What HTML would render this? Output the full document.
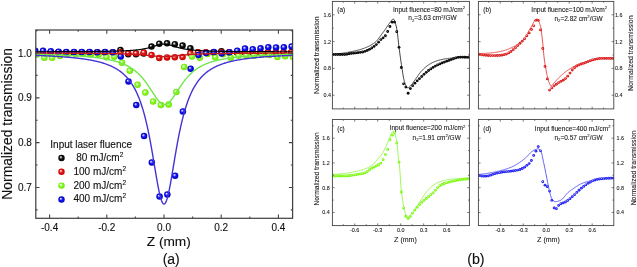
<!DOCTYPE html>
<html><head><meta charset="utf-8"><style>
html,body{margin:0;padding:0;background:#fff;}
svg{display:block;will-change:transform;}
svg text{font-family:"Liberation Sans",sans-serif;}
</style></head><body>
<svg width="637" height="267" viewBox="0 0 637 267">
<rect width="637" height="267" fill="#fff"/>
<defs>
<radialGradient id="gK" cx="0.5" cy="0.5" r="0.5" fx="0.36" fy="0.34"><stop offset="0" stop-color="#ffffff"/><stop offset="0.22" stop-color="#aaaaaa"/><stop offset="0.5" stop-color="#111"/><stop offset="1" stop-color="#000"/></radialGradient>
<radialGradient id="gR" cx="0.5" cy="0.5" r="0.5" fx="0.36" fy="0.34"><stop offset="0" stop-color="#ffffff"/><stop offset="0.22" stop-color="#ff9a9a"/><stop offset="0.5" stop-color="#e01818"/><stop offset="1" stop-color="#c40000"/></radialGradient>
<radialGradient id="gG" cx="0.5" cy="0.5" r="0.5" fx="0.36" fy="0.34"><stop offset="0" stop-color="#ffffff"/><stop offset="0.22" stop-color="#d0ffb0"/><stop offset="0.5" stop-color="#88ff22"/><stop offset="1" stop-color="#6ae000"/></radialGradient>
<radialGradient id="gB" cx="0.5" cy="0.5" r="0.5" fx="0.36" fy="0.34"><stop offset="0" stop-color="#ffffff"/><stop offset="0.22" stop-color="#9a9aff"/><stop offset="0.5" stop-color="#1414f0"/><stop offset="1" stop-color="#0000c4"/></radialGradient>
<radialGradient id="sK" cx="0.5" cy="0.5" r="0.5" fx="0.4" fy="0.4"><stop offset="0" stop-color="#777"/><stop offset="0.35" stop-color="#111"/><stop offset="1" stop-color="#000"/></radialGradient>
<radialGradient id="sR" cx="0.5" cy="0.5" r="0.5" fx="0.4" fy="0.4"><stop offset="0" stop-color="#ffb0b0"/><stop offset="0.45" stop-color="#e02828"/><stop offset="1" stop-color="#d01010"/></radialGradient>
<radialGradient id="sG" cx="0.5" cy="0.5" r="0.5" fx="0.4" fy="0.4"><stop offset="0" stop-color="#e0ffc0"/><stop offset="0.45" stop-color="#88ff22"/><stop offset="1" stop-color="#70f000"/></radialGradient>
<radialGradient id="sB" cx="0.5" cy="0.5" r="0.5" fx="0.4" fy="0.4"><stop offset="0" stop-color="#c0c0ff"/><stop offset="0.45" stop-color="#3030ff"/><stop offset="1" stop-color="#1818e0"/></radialGradient>
</defs>
<text x="49.60" y="231.3" font-size="10" text-anchor="middle" font-family="Liberation Sans, sans-serif" fill="#111" stroke="#111" stroke-width="0.12">-0.4</text>
<text x="106.80" y="231.3" font-size="10" text-anchor="middle" font-family="Liberation Sans, sans-serif" fill="#111" stroke="#111" stroke-width="0.12">-0.2</text>
<text x="164.00" y="231.3" font-size="10" text-anchor="middle" font-family="Liberation Sans, sans-serif" fill="#111" stroke="#111" stroke-width="0.12">0.0</text>
<text x="221.20" y="231.3" font-size="10" text-anchor="middle" font-family="Liberation Sans, sans-serif" fill="#111" stroke="#111" stroke-width="0.12">0.2</text>
<text x="278.40" y="231.3" font-size="10" text-anchor="middle" font-family="Liberation Sans, sans-serif" fill="#111" stroke="#111" stroke-width="0.12">0.4</text>
<text x="31.8" y="191.09" font-size="10" text-anchor="end" font-family="Liberation Sans, sans-serif" fill="#111" stroke="#111" stroke-width="0.12">0.7</text>
<text x="31.8" y="146.26" font-size="10" text-anchor="end" font-family="Liberation Sans, sans-serif" fill="#111" stroke="#111" stroke-width="0.12">0.8</text>
<text x="31.8" y="101.43" font-size="10" text-anchor="end" font-family="Liberation Sans, sans-serif" fill="#111" stroke="#111" stroke-width="0.12">0.9</text>
<text x="31.8" y="56.60" font-size="10" text-anchor="end" font-family="Liberation Sans, sans-serif" fill="#111" stroke="#111" stroke-width="0.12">1.0</text>
<text x="168.8" y="246.2" font-size="13.7" text-anchor="middle" font-family="Liberation Sans, sans-serif" fill="#111" stroke="#111" stroke-width="0.12">Z (mm)</text>
<text x="171.2" y="264.2" font-size="14" text-anchor="middle" font-family="Liberation Sans, sans-serif" fill="#111" stroke="#111" stroke-width="0.12">(a)</text>
<text transform="translate(11.6,123.9) rotate(-90)" font-size="13.85" text-anchor="middle" font-family="Liberation Sans, sans-serif" fill="#111" stroke="#111" stroke-width="0.12">Normalized transmission</text>
<clipPath id="ca"><rect x="35.8" y="30.0" width="256.8" height="188.3"/></clipPath>
<g clip-path="url(#ca)">
<circle cx="35.00" cy="52.60" r="3.25" fill="url(#gK)"/>
<circle cx="42.77" cy="52.60" r="3.25" fill="url(#gK)"/>
<circle cx="50.53" cy="52.60" r="3.25" fill="url(#gK)"/>
<circle cx="58.30" cy="52.60" r="3.25" fill="url(#gK)"/>
<circle cx="66.07" cy="52.60" r="3.25" fill="url(#gK)"/>
<circle cx="73.84" cy="52.60" r="3.25" fill="url(#gK)"/>
<circle cx="81.60" cy="52.60" r="3.25" fill="url(#gK)"/>
<circle cx="89.37" cy="52.60" r="3.25" fill="url(#gK)"/>
<circle cx="97.14" cy="52.60" r="3.25" fill="url(#gK)"/>
<circle cx="104.90" cy="52.60" r="3.25" fill="url(#gK)"/>
<circle cx="112.67" cy="52.60" r="3.25" fill="url(#gK)"/>
<circle cx="120.44" cy="50.00" r="3.25" fill="url(#gK)"/>
<circle cx="128.20" cy="54.30" r="3.25" fill="url(#gK)"/>
<circle cx="135.97" cy="54.30" r="3.25" fill="url(#gK)"/>
<circle cx="143.74" cy="53.60" r="3.25" fill="url(#gK)"/>
<circle cx="151.50" cy="46.60" r="3.25" fill="url(#gK)"/>
<circle cx="159.27" cy="43.70" r="3.25" fill="url(#gK)"/>
<circle cx="167.04" cy="43.30" r="3.25" fill="url(#gK)"/>
<circle cx="174.81" cy="44.20" r="3.25" fill="url(#gK)"/>
<circle cx="182.57" cy="45.60" r="3.25" fill="url(#gK)"/>
<circle cx="190.34" cy="48.30" r="3.25" fill="url(#gK)"/>
<circle cx="198.11" cy="52.60" r="3.25" fill="url(#gK)"/>
<circle cx="205.87" cy="52.60" r="3.25" fill="url(#gK)"/>
<circle cx="213.64" cy="52.60" r="3.25" fill="url(#gK)"/>
<circle cx="221.41" cy="51.30" r="3.25" fill="url(#gK)"/>
<circle cx="229.18" cy="52.60" r="3.25" fill="url(#gK)"/>
<circle cx="236.94" cy="52.60" r="3.25" fill="url(#gK)"/>
<circle cx="244.71" cy="52.60" r="3.25" fill="url(#gK)"/>
<circle cx="252.48" cy="52.60" r="3.25" fill="url(#gK)"/>
<circle cx="260.24" cy="52.60" r="3.25" fill="url(#gK)"/>
<circle cx="268.01" cy="52.60" r="3.25" fill="url(#gK)"/>
<circle cx="275.78" cy="52.60" r="3.25" fill="url(#gK)"/>
<circle cx="283.54" cy="52.60" r="3.25" fill="url(#gK)"/>
<circle cx="291.31" cy="52.60" r="3.25" fill="url(#gK)"/>
<circle cx="35.00" cy="52.30" r="3.25" fill="url(#gR)"/>
<circle cx="42.77" cy="52.30" r="3.25" fill="url(#gR)"/>
<circle cx="50.53" cy="52.30" r="3.25" fill="url(#gR)"/>
<circle cx="58.30" cy="52.30" r="3.25" fill="url(#gR)"/>
<circle cx="66.07" cy="52.30" r="3.25" fill="url(#gR)"/>
<circle cx="73.84" cy="52.30" r="3.25" fill="url(#gR)"/>
<circle cx="81.60" cy="52.30" r="3.25" fill="url(#gR)"/>
<circle cx="89.37" cy="52.30" r="3.25" fill="url(#gR)"/>
<circle cx="97.14" cy="52.30" r="3.25" fill="url(#gR)"/>
<circle cx="104.90" cy="52.30" r="3.25" fill="url(#gR)"/>
<circle cx="112.67" cy="52.30" r="3.25" fill="url(#gR)"/>
<circle cx="120.44" cy="52.30" r="3.25" fill="url(#gR)"/>
<circle cx="128.20" cy="53.30" r="3.25" fill="url(#gR)"/>
<circle cx="135.97" cy="53.30" r="3.25" fill="url(#gR)"/>
<circle cx="143.74" cy="52.50" r="3.25" fill="url(#gR)"/>
<circle cx="151.50" cy="55.10" r="3.25" fill="url(#gR)"/>
<circle cx="159.27" cy="57.90" r="3.25" fill="url(#gR)"/>
<circle cx="167.04" cy="57.40" r="3.25" fill="url(#gR)"/>
<circle cx="174.81" cy="57.30" r="3.25" fill="url(#gR)"/>
<circle cx="182.57" cy="57.00" r="3.25" fill="url(#gR)"/>
<circle cx="190.34" cy="53.30" r="3.25" fill="url(#gR)"/>
<circle cx="198.11" cy="52.30" r="3.25" fill="url(#gR)"/>
<circle cx="205.87" cy="52.30" r="3.25" fill="url(#gR)"/>
<circle cx="213.64" cy="52.30" r="3.25" fill="url(#gR)"/>
<circle cx="221.41" cy="52.30" r="3.25" fill="url(#gR)"/>
<circle cx="229.18" cy="52.30" r="3.25" fill="url(#gR)"/>
<circle cx="236.94" cy="52.30" r="3.25" fill="url(#gR)"/>
<circle cx="244.71" cy="52.30" r="3.25" fill="url(#gR)"/>
<circle cx="252.48" cy="52.30" r="3.25" fill="url(#gR)"/>
<circle cx="260.24" cy="52.30" r="3.25" fill="url(#gR)"/>
<circle cx="268.01" cy="52.30" r="3.25" fill="url(#gR)"/>
<circle cx="275.78" cy="52.30" r="3.25" fill="url(#gR)"/>
<circle cx="283.54" cy="52.30" r="3.25" fill="url(#gR)"/>
<circle cx="291.31" cy="52.30" r="3.25" fill="url(#gR)"/>
<circle cx="36.60" cy="54.60" r="3.25" fill="url(#gG)"/>
<circle cx="44.37" cy="57.80" r="3.25" fill="url(#gG)"/>
<circle cx="52.13" cy="57.80" r="3.25" fill="url(#gG)"/>
<circle cx="59.90" cy="56.00" r="3.25" fill="url(#gG)"/>
<circle cx="67.67" cy="54.00" r="3.25" fill="url(#gG)"/>
<circle cx="75.44" cy="54.00" r="3.25" fill="url(#gG)"/>
<circle cx="83.20" cy="54.00" r="3.25" fill="url(#gG)"/>
<circle cx="90.97" cy="54.20" r="3.25" fill="url(#gG)"/>
<circle cx="98.74" cy="54.50" r="3.25" fill="url(#gG)"/>
<circle cx="106.50" cy="57.20" r="3.25" fill="url(#gG)"/>
<circle cx="114.27" cy="56.70" r="3.25" fill="url(#gG)"/>
<circle cx="122.04" cy="62.70" r="3.25" fill="url(#gG)"/>
<circle cx="129.80" cy="70.80" r="3.25" fill="url(#gG)"/>
<circle cx="137.57" cy="84.80" r="3.25" fill="url(#gG)"/>
<circle cx="145.34" cy="92.60" r="3.25" fill="url(#gG)"/>
<circle cx="153.10" cy="101.50" r="3.25" fill="url(#gG)"/>
<circle cx="160.87" cy="105.00" r="3.25" fill="url(#gG)"/>
<circle cx="168.64" cy="104.50" r="3.25" fill="url(#gG)"/>
<circle cx="176.41" cy="92.00" r="3.25" fill="url(#gG)"/>
<circle cx="184.17" cy="67.00" r="3.25" fill="url(#gG)"/>
<circle cx="191.94" cy="56.60" r="3.25" fill="url(#gG)"/>
<circle cx="199.71" cy="57.70" r="3.25" fill="url(#gG)"/>
<circle cx="207.47" cy="54.00" r="3.25" fill="url(#gG)"/>
<circle cx="215.24" cy="57.30" r="3.25" fill="url(#gG)"/>
<circle cx="223.01" cy="54.30" r="3.25" fill="url(#gG)"/>
<circle cx="230.78" cy="57.70" r="3.25" fill="url(#gG)"/>
<circle cx="238.54" cy="55.80" r="3.25" fill="url(#gG)"/>
<circle cx="246.31" cy="55.50" r="3.25" fill="url(#gG)"/>
<circle cx="254.08" cy="55.80" r="3.25" fill="url(#gG)"/>
<circle cx="261.84" cy="54.40" r="3.25" fill="url(#gG)"/>
<circle cx="269.61" cy="55.00" r="3.25" fill="url(#gG)"/>
<circle cx="277.38" cy="57.00" r="3.25" fill="url(#gG)"/>
<circle cx="285.14" cy="56.20" r="3.25" fill="url(#gG)"/>
<circle cx="292.91" cy="57.00" r="3.25" fill="url(#gG)"/>
<circle cx="35.30" cy="50.80" r="3.25" fill="url(#gB)"/>
<circle cx="43.07" cy="50.80" r="3.25" fill="url(#gB)"/>
<circle cx="50.83" cy="51.20" r="3.25" fill="url(#gB)"/>
<circle cx="58.60" cy="51.70" r="3.25" fill="url(#gB)"/>
<circle cx="66.37" cy="52.00" r="3.25" fill="url(#gB)"/>
<circle cx="74.14" cy="52.00" r="3.25" fill="url(#gB)"/>
<circle cx="81.90" cy="52.00" r="3.25" fill="url(#gB)"/>
<circle cx="89.67" cy="52.00" r="3.25" fill="url(#gB)"/>
<circle cx="97.44" cy="52.20" r="3.25" fill="url(#gB)"/>
<circle cx="105.20" cy="52.00" r="3.25" fill="url(#gB)"/>
<circle cx="112.97" cy="52.20" r="3.25" fill="url(#gB)"/>
<circle cx="120.74" cy="56.40" r="3.25" fill="url(#gB)"/>
<circle cx="128.50" cy="81.40" r="3.25" fill="url(#gB)"/>
<circle cx="136.27" cy="105.00" r="3.25" fill="url(#gB)"/>
<circle cx="144.04" cy="136.00" r="3.25" fill="url(#gB)"/>
<circle cx="151.81" cy="162.50" r="3.25" fill="url(#gB)"/>
<circle cx="159.57" cy="196.60" r="3.25" fill="url(#gB)"/>
<circle cx="167.34" cy="194.50" r="3.25" fill="url(#gB)"/>
<circle cx="175.11" cy="175.70" r="3.25" fill="url(#gB)"/>
<circle cx="182.87" cy="111.40" r="3.25" fill="url(#gB)"/>
<circle cx="190.64" cy="68.70" r="3.25" fill="url(#gB)"/>
<circle cx="198.41" cy="55.00" r="3.25" fill="url(#gB)"/>
<circle cx="206.17" cy="53.10" r="3.25" fill="url(#gB)"/>
<circle cx="213.94" cy="52.00" r="3.25" fill="url(#gB)"/>
<circle cx="221.71" cy="53.60" r="3.25" fill="url(#gB)"/>
<circle cx="229.48" cy="52.20" r="3.25" fill="url(#gB)"/>
<circle cx="237.24" cy="50.70" r="3.25" fill="url(#gB)"/>
<circle cx="245.01" cy="48.50" r="3.25" fill="url(#gB)"/>
<circle cx="252.78" cy="49.20" r="3.25" fill="url(#gB)"/>
<circle cx="260.54" cy="48.30" r="3.25" fill="url(#gB)"/>
<circle cx="268.31" cy="47.20" r="3.25" fill="url(#gB)"/>
<circle cx="276.08" cy="47.50" r="3.25" fill="url(#gB)"/>
<circle cx="283.84" cy="47.20" r="3.25" fill="url(#gB)"/>
<circle cx="291.61" cy="46.50" r="3.25" fill="url(#gB)"/>
<path d="M32.44,51.77 L33.10,51.77 L33.76,51.77 L34.41,51.77 L35.07,51.76 L35.73,51.76 L36.39,51.76 L37.04,51.76 L37.70,51.76 L38.36,51.76 L39.02,51.76 L39.68,51.76 L40.33,51.75 L40.99,51.75 L41.65,51.75 L42.31,51.75 L42.96,51.75 L43.62,51.75 L44.28,51.75 L44.94,51.74 L45.60,51.74 L46.25,51.74 L46.91,51.74 L47.57,51.74 L48.23,51.74 L48.88,51.74 L49.54,51.73 L50.20,51.73 L50.86,51.73 L51.52,51.73 L52.17,51.73 L52.83,51.73 L53.49,51.72 L54.15,51.72 L54.81,51.72 L55.46,51.72 L56.12,51.72 L56.78,51.71 L57.44,51.71 L58.09,51.71 L58.75,51.71 L59.41,51.71 L60.07,51.70 L60.73,51.70 L61.38,51.70 L62.04,51.70 L62.70,51.69 L63.36,51.69 L64.01,51.69 L64.67,51.69 L65.33,51.68 L65.99,51.68 L66.65,51.68 L67.30,51.68 L67.96,51.67 L68.62,51.67 L69.28,51.67 L69.93,51.67 L70.59,51.66 L71.25,51.66 L71.91,51.66 L72.57,51.65 L73.22,51.65 L73.88,51.65 L74.54,51.64 L75.20,51.64 L75.85,51.64 L76.51,51.63 L77.17,51.63 L77.83,51.63 L78.49,51.62 L79.14,51.62 L79.80,51.61 L80.46,51.61 L81.12,51.61 L81.77,51.60 L82.43,51.60 L83.09,51.59 L83.75,51.59 L84.41,51.58 L85.06,51.58 L85.72,51.57 L86.38,51.57 L87.04,51.56 L87.70,51.56 L88.35,51.55 L89.01,51.55 L89.67,51.54 L90.33,51.54 L90.98,51.53 L91.64,51.53 L92.30,51.52 L92.96,51.51 L93.62,51.51 L94.27,51.50 L94.93,51.49 L95.59,51.49 L96.25,51.48 L96.90,51.47 L97.56,51.46 L98.22,51.45 L98.88,51.45 L99.54,51.44 L100.19,51.43 L100.85,51.42 L101.51,51.41 L102.17,51.40 L102.82,51.39 L103.48,51.38 L104.14,51.37 L104.80,51.36 L105.46,51.35 L106.11,51.34 L106.77,51.33 L107.43,51.32 L108.09,51.30 L108.74,51.29 L109.40,51.28 L110.06,51.26 L110.72,51.25 L111.38,51.24 L112.03,51.22 L112.69,51.21 L113.35,51.19 L114.01,51.17 L114.66,51.16 L115.32,51.14 L115.98,51.12 L116.64,51.10 L117.30,51.08 L117.95,51.06 L118.61,51.04 L119.27,51.02 L119.93,50.99 L120.59,50.97 L121.24,50.94 L121.90,50.92 L122.56,50.89 L123.22,50.86 L123.87,50.83 L124.53,50.80 L125.19,50.77 L125.85,50.74 L126.51,50.71 L127.16,50.67 L127.82,50.63 L128.48,50.59 L129.14,50.55 L129.79,50.51 L130.45,50.47 L131.11,50.42 L131.77,50.37 L132.43,50.32 L133.08,50.27 L133.74,50.21 L134.40,50.15 L135.06,50.09 L135.71,50.03 L136.37,49.96 L137.03,49.89 L137.69,49.81 L138.35,49.74 L139.00,49.65 L139.66,49.57 L140.32,49.48 L140.98,49.38 L141.63,49.28 L142.29,49.18 L142.95,49.07 L143.61,48.95 L144.27,48.83 L144.92,48.70 L145.58,48.57 L146.24,48.43 L146.90,48.28 L147.56,48.13 L148.21,47.97 L148.87,47.80 L149.53,47.63 L150.19,47.45 L150.84,47.26 L151.50,47.07 L152.16,46.87 L152.82,46.67 L153.48,46.46 L154.13,46.25 L154.79,46.04 L155.45,45.82 L156.11,45.61 L156.76,45.40 L157.42,45.20 L158.08,45.01 L158.74,44.82 L159.40,44.65 L160.05,44.50 L160.71,44.36 L161.37,44.25 L162.03,44.16 L162.68,44.09 L163.34,44.05 L164.00,44.03 L164.66,44.05 L165.32,44.09 L165.97,44.16 L166.63,44.25 L167.29,44.36 L167.95,44.50 L168.60,44.65 L169.26,44.82 L169.92,45.01 L170.58,45.20 L171.24,45.40 L171.89,45.61 L172.55,45.82 L173.21,46.04 L173.87,46.25 L174.52,46.46 L175.18,46.67 L175.84,46.87 L176.50,47.07 L177.16,47.26 L177.81,47.45 L178.47,47.63 L179.13,47.80 L179.79,47.97 L180.44,48.13 L181.10,48.28 L181.76,48.43 L182.42,48.57 L183.08,48.70 L183.73,48.83 L184.39,48.95 L185.05,49.07 L185.71,49.18 L186.37,49.28 L187.02,49.38 L187.68,49.48 L188.34,49.57 L189.00,49.65 L189.65,49.74 L190.31,49.81 L190.97,49.89 L191.63,49.96 L192.29,50.03 L192.94,50.09 L193.60,50.15 L194.26,50.21 L194.92,50.27 L195.57,50.32 L196.23,50.37 L196.89,50.42 L197.55,50.47 L198.21,50.51 L198.86,50.55 L199.52,50.59 L200.18,50.63 L200.84,50.67 L201.49,50.71 L202.15,50.74 L202.81,50.77 L203.47,50.80 L204.13,50.83 L204.78,50.86 L205.44,50.89 L206.10,50.92 L206.76,50.94 L207.41,50.97 L208.07,50.99 L208.73,51.02 L209.39,51.04 L210.05,51.06 L210.70,51.08 L211.36,51.10 L212.02,51.12 L212.68,51.14 L213.33,51.16 L213.99,51.17 L214.65,51.19 L215.31,51.21 L215.97,51.22 L216.62,51.24 L217.28,51.25 L217.94,51.26 L218.60,51.28 L219.26,51.29 L219.91,51.30 L220.57,51.32 L221.23,51.33 L221.89,51.34 L222.54,51.35 L223.20,51.36 L223.86,51.37 L224.52,51.38 L225.18,51.39 L225.83,51.40 L226.49,51.41 L227.15,51.42 L227.81,51.43 L228.46,51.44 L229.12,51.45 L229.78,51.45 L230.44,51.46 L231.10,51.47 L231.75,51.48 L232.41,51.49 L233.07,51.49 L233.73,51.50 L234.38,51.51 L235.04,51.51 L235.70,51.52 L236.36,51.53 L237.02,51.53 L237.67,51.54 L238.33,51.54 L238.99,51.55 L239.65,51.55 L240.30,51.56 L240.96,51.56 L241.62,51.57 L242.28,51.57 L242.94,51.58 L243.59,51.58 L244.25,51.59 L244.91,51.59 L245.57,51.60 L246.23,51.60 L246.88,51.61 L247.54,51.61 L248.20,51.61 L248.86,51.62 L249.51,51.62 L250.17,51.63 L250.83,51.63 L251.49,51.63 L252.15,51.64 L252.80,51.64 L253.46,51.64 L254.12,51.65 L254.78,51.65 L255.43,51.65 L256.09,51.66 L256.75,51.66 L257.41,51.66 L258.07,51.67 L258.72,51.67 L259.38,51.67 L260.04,51.67 L260.70,51.68 L261.35,51.68 L262.01,51.68 L262.67,51.68 L263.33,51.69 L263.99,51.69 L264.64,51.69 L265.30,51.69 L265.96,51.70 L266.62,51.70 L267.27,51.70 L267.93,51.70 L268.59,51.71 L269.25,51.71 L269.91,51.71 L270.56,51.71 L271.22,51.71 L271.88,51.72 L272.54,51.72 L273.19,51.72 L273.85,51.72 L274.51,51.72 L275.17,51.73 L275.83,51.73 L276.48,51.73 L277.14,51.73 L277.80,51.73 L278.46,51.73 L279.12,51.74 L279.77,51.74 L280.43,51.74 L281.09,51.74 L281.75,51.74 L282.40,51.74 L283.06,51.74 L283.72,51.75 L284.38,51.75 L285.04,51.75 L285.69,51.75 L286.35,51.75 L287.01,51.75 L287.67,51.75 L288.32,51.76 L288.98,51.76 L289.64,51.76 L290.30,51.76 L290.96,51.76 L291.61,51.76 L292.27,51.76 L292.93,51.76 L293.59,51.77 L294.24,51.77 L294.90,51.77 L295.56,51.77" stroke="#000" stroke-width="1.2" fill="none"/>
<path d="M32.44,53.11 L33.10,53.11 L33.76,53.11 L34.41,53.11 L35.07,53.11 L35.73,53.11 L36.39,53.11 L37.04,53.11 L37.70,53.11 L38.36,53.12 L39.02,53.12 L39.68,53.12 L40.33,53.12 L40.99,53.12 L41.65,53.12 L42.31,53.12 L42.96,53.12 L43.62,53.13 L44.28,53.13 L44.94,53.13 L45.60,53.13 L46.25,53.13 L46.91,53.13 L47.57,53.13 L48.23,53.13 L48.88,53.14 L49.54,53.14 L50.20,53.14 L50.86,53.14 L51.52,53.14 L52.17,53.14 L52.83,53.15 L53.49,53.15 L54.15,53.15 L54.81,53.15 L55.46,53.15 L56.12,53.15 L56.78,53.16 L57.44,53.16 L58.09,53.16 L58.75,53.16 L59.41,53.16 L60.07,53.17 L60.73,53.17 L61.38,53.17 L62.04,53.17 L62.70,53.17 L63.36,53.18 L64.01,53.18 L64.67,53.18 L65.33,53.18 L65.99,53.19 L66.65,53.19 L67.30,53.19 L67.96,53.19 L68.62,53.20 L69.28,53.20 L69.93,53.20 L70.59,53.20 L71.25,53.21 L71.91,53.21 L72.57,53.21 L73.22,53.21 L73.88,53.22 L74.54,53.22 L75.20,53.22 L75.85,53.23 L76.51,53.23 L77.17,53.23 L77.83,53.24 L78.49,53.24 L79.14,53.24 L79.80,53.25 L80.46,53.25 L81.12,53.25 L81.77,53.26 L82.43,53.26 L83.09,53.27 L83.75,53.27 L84.41,53.27 L85.06,53.28 L85.72,53.28 L86.38,53.29 L87.04,53.29 L87.70,53.30 L88.35,53.30 L89.01,53.31 L89.67,53.31 L90.33,53.32 L90.98,53.32 L91.64,53.33 L92.30,53.33 L92.96,53.34 L93.62,53.34 L94.27,53.35 L94.93,53.35 L95.59,53.36 L96.25,53.37 L96.90,53.37 L97.56,53.38 L98.22,53.39 L98.88,53.39 L99.54,53.40 L100.19,53.41 L100.85,53.42 L101.51,53.42 L102.17,53.43 L102.82,53.44 L103.48,53.45 L104.14,53.46 L104.80,53.47 L105.46,53.48 L106.11,53.48 L106.77,53.49 L107.43,53.50 L108.09,53.51 L108.74,53.52 L109.40,53.54 L110.06,53.55 L110.72,53.56 L111.38,53.57 L112.03,53.58 L112.69,53.59 L113.35,53.61 L114.01,53.62 L114.66,53.63 L115.32,53.65 L115.98,53.66 L116.64,53.68 L117.30,53.69 L117.95,53.71 L118.61,53.73 L119.27,53.74 L119.93,53.76 L120.59,53.78 L121.24,53.80 L121.90,53.82 L122.56,53.84 L123.22,53.86 L123.87,53.88 L124.53,53.90 L125.19,53.92 L125.85,53.95 L126.51,53.97 L127.16,54.00 L127.82,54.02 L128.48,54.05 L129.14,54.08 L129.79,54.11 L130.45,54.14 L131.11,54.17 L131.77,54.20 L132.43,54.23 L133.08,54.27 L133.74,54.30 L134.40,54.34 L135.06,54.38 L135.71,54.42 L136.37,54.46 L137.03,54.50 L137.69,54.54 L138.35,54.59 L139.00,54.63 L139.66,54.68 L140.32,54.73 L140.98,54.78 L141.63,54.83 L142.29,54.89 L142.95,54.94 L143.61,55.00 L144.27,55.06 L144.92,55.12 L145.58,55.18 L146.24,55.24 L146.90,55.30 L147.56,55.36 L148.21,55.43 L148.87,55.50 L149.53,55.56 L150.19,55.63 L150.84,55.70 L151.50,55.76 L152.16,55.83 L152.82,55.89 L153.48,55.96 L154.13,56.02 L154.79,56.09 L155.45,56.15 L156.11,56.20 L156.76,56.26 L157.42,56.31 L158.08,56.36 L158.74,56.41 L159.40,56.45 L160.05,56.48 L160.71,56.51 L161.37,56.54 L162.03,56.56 L162.68,56.57 L163.34,56.58 L164.00,56.59 L164.66,56.58 L165.32,56.57 L165.97,56.56 L166.63,56.54 L167.29,56.51 L167.95,56.48 L168.60,56.45 L169.26,56.41 L169.92,56.36 L170.58,56.31 L171.24,56.26 L171.89,56.20 L172.55,56.15 L173.21,56.09 L173.87,56.02 L174.52,55.96 L175.18,55.89 L175.84,55.83 L176.50,55.76 L177.16,55.70 L177.81,55.63 L178.47,55.56 L179.13,55.50 L179.79,55.43 L180.44,55.36 L181.10,55.30 L181.76,55.24 L182.42,55.18 L183.08,55.12 L183.73,55.06 L184.39,55.00 L185.05,54.94 L185.71,54.89 L186.37,54.83 L187.02,54.78 L187.68,54.73 L188.34,54.68 L189.00,54.63 L189.65,54.59 L190.31,54.54 L190.97,54.50 L191.63,54.46 L192.29,54.42 L192.94,54.38 L193.60,54.34 L194.26,54.30 L194.92,54.27 L195.57,54.23 L196.23,54.20 L196.89,54.17 L197.55,54.14 L198.21,54.11 L198.86,54.08 L199.52,54.05 L200.18,54.02 L200.84,54.00 L201.49,53.97 L202.15,53.95 L202.81,53.92 L203.47,53.90 L204.13,53.88 L204.78,53.86 L205.44,53.84 L206.10,53.82 L206.76,53.80 L207.41,53.78 L208.07,53.76 L208.73,53.74 L209.39,53.73 L210.05,53.71 L210.70,53.69 L211.36,53.68 L212.02,53.66 L212.68,53.65 L213.33,53.63 L213.99,53.62 L214.65,53.61 L215.31,53.59 L215.97,53.58 L216.62,53.57 L217.28,53.56 L217.94,53.55 L218.60,53.54 L219.26,53.52 L219.91,53.51 L220.57,53.50 L221.23,53.49 L221.89,53.48 L222.54,53.48 L223.20,53.47 L223.86,53.46 L224.52,53.45 L225.18,53.44 L225.83,53.43 L226.49,53.42 L227.15,53.42 L227.81,53.41 L228.46,53.40 L229.12,53.39 L229.78,53.39 L230.44,53.38 L231.10,53.37 L231.75,53.37 L232.41,53.36 L233.07,53.35 L233.73,53.35 L234.38,53.34 L235.04,53.34 L235.70,53.33 L236.36,53.33 L237.02,53.32 L237.67,53.32 L238.33,53.31 L238.99,53.31 L239.65,53.30 L240.30,53.30 L240.96,53.29 L241.62,53.29 L242.28,53.28 L242.94,53.28 L243.59,53.27 L244.25,53.27 L244.91,53.27 L245.57,53.26 L246.23,53.26 L246.88,53.25 L247.54,53.25 L248.20,53.25 L248.86,53.24 L249.51,53.24 L250.17,53.24 L250.83,53.23 L251.49,53.23 L252.15,53.23 L252.80,53.22 L253.46,53.22 L254.12,53.22 L254.78,53.21 L255.43,53.21 L256.09,53.21 L256.75,53.21 L257.41,53.20 L258.07,53.20 L258.72,53.20 L259.38,53.20 L260.04,53.19 L260.70,53.19 L261.35,53.19 L262.01,53.19 L262.67,53.18 L263.33,53.18 L263.99,53.18 L264.64,53.18 L265.30,53.17 L265.96,53.17 L266.62,53.17 L267.27,53.17 L267.93,53.17 L268.59,53.16 L269.25,53.16 L269.91,53.16 L270.56,53.16 L271.22,53.16 L271.88,53.15 L272.54,53.15 L273.19,53.15 L273.85,53.15 L274.51,53.15 L275.17,53.15 L275.83,53.14 L276.48,53.14 L277.14,53.14 L277.80,53.14 L278.46,53.14 L279.12,53.14 L279.77,53.13 L280.43,53.13 L281.09,53.13 L281.75,53.13 L282.40,53.13 L283.06,53.13 L283.72,53.13 L284.38,53.13 L285.04,53.12 L285.69,53.12 L286.35,53.12 L287.01,53.12 L287.67,53.12 L288.32,53.12 L288.98,53.12 L289.64,53.12 L290.30,53.11 L290.96,53.11 L291.61,53.11 L292.27,53.11 L292.93,53.11 L293.59,53.11 L294.24,53.11 L294.90,53.11 L295.56,53.11" stroke="#c81818" stroke-width="1.4" fill="none"/>
<path d="M32.44,54.32 L33.10,54.34 L33.76,54.35 L34.41,54.36 L35.07,54.38 L35.73,54.39 L36.39,54.40 L37.04,54.42 L37.70,54.43 L38.36,54.45 L39.02,54.46 L39.68,54.48 L40.33,54.49 L40.99,54.51 L41.65,54.52 L42.31,54.54 L42.96,54.56 L43.62,54.57 L44.28,54.59 L44.94,54.61 L45.60,54.62 L46.25,54.64 L46.91,54.66 L47.57,54.68 L48.23,54.69 L48.88,54.71 L49.54,54.73 L50.20,54.75 L50.86,54.77 L51.52,54.79 L52.17,54.81 L52.83,54.83 L53.49,54.85 L54.15,54.87 L54.81,54.90 L55.46,54.92 L56.12,54.94 L56.78,54.96 L57.44,54.99 L58.09,55.01 L58.75,55.03 L59.41,55.06 L60.07,55.08 L60.73,55.11 L61.38,55.14 L62.04,55.16 L62.70,55.19 L63.36,55.22 L64.01,55.24 L64.67,55.27 L65.33,55.30 L65.99,55.33 L66.65,55.36 L67.30,55.39 L67.96,55.42 L68.62,55.45 L69.28,55.49 L69.93,55.52 L70.59,55.55 L71.25,55.59 L71.91,55.62 L72.57,55.66 L73.22,55.69 L73.88,55.73 L74.54,55.77 L75.20,55.81 L75.85,55.85 L76.51,55.89 L77.17,55.93 L77.83,55.97 L78.49,56.01 L79.14,56.06 L79.80,56.10 L80.46,56.15 L81.12,56.19 L81.77,56.24 L82.43,56.29 L83.09,56.34 L83.75,56.39 L84.41,56.44 L85.06,56.50 L85.72,56.55 L86.38,56.61 L87.04,56.67 L87.70,56.72 L88.35,56.78 L89.01,56.84 L89.67,56.91 L90.33,56.97 L90.98,57.04 L91.64,57.10 L92.30,57.17 L92.96,57.24 L93.62,57.32 L94.27,57.39 L94.93,57.47 L95.59,57.55 L96.25,57.63 L96.90,57.71 L97.56,57.79 L98.22,57.88 L98.88,57.97 L99.54,58.06 L100.19,58.15 L100.85,58.25 L101.51,58.35 L102.17,58.45 L102.82,58.55 L103.48,58.66 L104.14,58.77 L104.80,58.88 L105.46,59.00 L106.11,59.12 L106.77,59.24 L107.43,59.37 L108.09,59.50 L108.74,59.63 L109.40,59.77 L110.06,59.91 L110.72,60.06 L111.38,60.21 L112.03,60.37 L112.69,60.53 L113.35,60.69 L114.01,60.86 L114.66,61.04 L115.32,61.22 L115.98,61.41 L116.64,61.60 L117.30,61.80 L117.95,62.01 L118.61,62.22 L119.27,62.44 L119.93,62.67 L120.59,62.90 L121.24,63.15 L121.90,63.40 L122.56,63.66 L123.22,63.93 L123.87,64.21 L124.53,64.50 L125.19,64.79 L125.85,65.10 L126.51,65.42 L127.16,65.76 L127.82,66.10 L128.48,66.46 L129.14,66.82 L129.79,67.21 L130.45,67.60 L131.11,68.01 L131.77,68.44 L132.43,68.88 L133.08,69.34 L133.74,69.82 L134.40,70.31 L135.06,70.82 L135.71,71.35 L136.37,71.90 L137.03,72.46 L137.69,73.05 L138.35,73.66 L139.00,74.30 L139.66,74.95 L140.32,75.63 L140.98,76.33 L141.63,77.05 L142.29,77.80 L142.95,78.57 L143.61,79.37 L144.27,80.19 L144.92,81.03 L145.58,81.90 L146.24,82.79 L146.90,83.71 L147.56,84.64 L148.21,85.60 L148.87,86.57 L149.53,87.56 L150.19,88.56 L150.84,89.57 L151.50,90.60 L152.16,91.62 L152.82,92.65 L153.48,93.67 L154.13,94.68 L154.79,95.68 L155.45,96.66 L156.11,97.61 L156.76,98.52 L157.42,99.40 L158.08,100.23 L158.74,101.00 L159.40,101.72 L160.05,102.36 L160.71,102.94 L161.37,103.43 L162.03,103.84 L162.68,104.16 L163.34,104.39 L164.00,104.52 L164.66,104.55 L165.32,104.49 L165.97,104.34 L166.63,104.08 L167.29,103.74 L167.95,103.31 L168.60,102.79 L169.26,102.20 L169.92,101.54 L170.58,100.81 L171.24,100.02 L171.89,99.17 L172.55,98.29 L173.21,97.36 L173.87,96.40 L174.52,95.42 L175.18,94.42 L175.84,93.40 L176.50,92.38 L177.16,91.35 L177.81,90.33 L178.47,89.31 L179.13,88.30 L179.79,87.30 L180.44,86.31 L181.10,85.34 L181.76,84.39 L182.42,83.47 L183.08,82.56 L183.73,81.67 L184.39,80.81 L185.05,79.97 L185.71,79.16 L186.37,78.37 L187.02,77.60 L187.68,76.86 L188.34,76.14 L189.00,75.45 L189.65,74.78 L190.31,74.13 L190.97,73.50 L191.63,72.90 L192.29,72.31 L192.94,71.75 L193.60,71.21 L194.26,70.68 L194.92,70.18 L195.57,69.69 L196.23,69.22 L196.89,68.77 L197.55,68.33 L198.21,67.91 L198.86,67.50 L199.52,67.11 L200.18,66.73 L200.84,66.36 L201.49,66.01 L202.15,65.67 L202.81,65.34 L203.47,65.02 L204.13,64.72 L204.78,64.42 L205.44,64.13 L206.10,63.86 L206.76,63.59 L207.41,63.33 L208.07,63.08 L208.73,62.84 L209.39,62.61 L210.05,62.38 L210.70,62.16 L211.36,61.95 L212.02,61.75 L212.68,61.55 L213.33,61.36 L213.99,61.17 L214.65,60.99 L215.31,60.82 L215.97,60.65 L216.62,60.48 L217.28,60.32 L217.94,60.17 L218.60,60.02 L219.26,59.87 L219.91,59.73 L220.57,59.60 L221.23,59.46 L221.89,59.33 L222.54,59.21 L223.20,59.09 L223.86,58.97 L224.52,58.85 L225.18,58.74 L225.83,58.63 L226.49,58.52 L227.15,58.42 L227.81,58.32 L228.46,58.22 L229.12,58.13 L229.78,58.03 L230.44,57.94 L231.10,57.86 L231.75,57.77 L232.41,57.69 L233.07,57.60 L233.73,57.52 L234.38,57.45 L235.04,57.37 L235.70,57.30 L236.36,57.23 L237.02,57.16 L237.67,57.09 L238.33,57.02 L238.99,56.95 L239.65,56.89 L240.30,56.83 L240.96,56.77 L241.62,56.71 L242.28,56.65 L242.94,56.59 L243.59,56.54 L244.25,56.48 L244.91,56.43 L245.57,56.38 L246.23,56.33 L246.88,56.28 L247.54,56.23 L248.20,56.18 L248.86,56.14 L249.51,56.09 L250.17,56.05 L250.83,56.00 L251.49,55.96 L252.15,55.92 L252.80,55.88 L253.46,55.84 L254.12,55.80 L254.78,55.76 L255.43,55.72 L256.09,55.68 L256.75,55.65 L257.41,55.61 L258.07,55.58 L258.72,55.54 L259.38,55.51 L260.04,55.48 L260.70,55.45 L261.35,55.41 L262.01,55.38 L262.67,55.35 L263.33,55.32 L263.99,55.29 L264.64,55.26 L265.30,55.24 L265.96,55.21 L266.62,55.18 L267.27,55.15 L267.93,55.13 L268.59,55.10 L269.25,55.08 L269.91,55.05 L270.56,55.03 L271.22,55.00 L271.88,54.98 L272.54,54.96 L273.19,54.93 L273.85,54.91 L274.51,54.89 L275.17,54.87 L275.83,54.85 L276.48,54.83 L277.14,54.81 L277.80,54.79 L278.46,54.77 L279.12,54.75 L279.77,54.73 L280.43,54.71 L281.09,54.69 L281.75,54.67 L282.40,54.65 L283.06,54.64 L283.72,54.62 L284.38,54.60 L285.04,54.58 L285.69,54.57 L286.35,54.55 L287.01,54.54 L287.67,54.52 L288.32,54.50 L288.98,54.49 L289.64,54.47 L290.30,54.46 L290.96,54.44 L291.61,54.43 L292.27,54.41 L292.93,54.40 L293.59,54.39 L294.24,54.37 L294.90,54.36 L295.56,54.35" stroke="#72e64a" stroke-width="1.4" fill="none"/>
<path d="M32.44,55.28 L33.10,55.31 L33.76,55.33 L34.41,55.35 L35.07,55.38 L35.73,55.40 L36.39,55.43 L37.04,55.45 L37.70,55.48 L38.36,55.50 L39.02,55.53 L39.68,55.55 L40.33,55.58 L40.99,55.61 L41.65,55.64 L42.31,55.66 L42.96,55.69 L43.62,55.72 L44.28,55.75 L44.94,55.78 L45.60,55.81 L46.25,55.84 L46.91,55.87 L47.57,55.90 L48.23,55.94 L48.88,55.97 L49.54,56.00 L50.20,56.04 L50.86,56.07 L51.52,56.11 L52.17,56.14 L52.83,56.18 L53.49,56.22 L54.15,56.26 L54.81,56.29 L55.46,56.33 L56.12,56.37 L56.78,56.41 L57.44,56.45 L58.09,56.50 L58.75,56.54 L59.41,56.58 L60.07,56.63 L60.73,56.67 L61.38,56.72 L62.04,56.77 L62.70,56.81 L63.36,56.86 L64.01,56.91 L64.67,56.96 L65.33,57.01 L65.99,57.07 L66.65,57.12 L67.30,57.18 L67.96,57.23 L68.62,57.29 L69.28,57.35 L69.93,57.41 L70.59,57.47 L71.25,57.53 L71.91,57.59 L72.57,57.65 L73.22,57.72 L73.88,57.79 L74.54,57.86 L75.20,57.93 L75.85,58.00 L76.51,58.07 L77.17,58.14 L77.83,58.22 L78.49,58.30 L79.14,58.38 L79.80,58.46 L80.46,58.54 L81.12,58.63 L81.77,58.71 L82.43,58.80 L83.09,58.89 L83.75,58.99 L84.41,59.08 L85.06,59.18 L85.72,59.28 L86.38,59.38 L87.04,59.49 L87.70,59.59 L88.35,59.70 L89.01,59.82 L89.67,59.93 L90.33,60.05 L90.98,60.17 L91.64,60.30 L92.30,60.43 L92.96,60.56 L93.62,60.69 L94.27,60.83 L94.93,60.97 L95.59,61.12 L96.25,61.27 L96.90,61.42 L97.56,61.58 L98.22,61.74 L98.88,61.91 L99.54,62.08 L100.19,62.26 L100.85,62.44 L101.51,62.63 L102.17,62.82 L102.82,63.02 L103.48,63.22 L104.14,63.43 L104.80,63.65 L105.46,63.87 L106.11,64.10 L106.77,64.34 L107.43,64.58 L108.09,64.84 L108.74,65.10 L109.40,65.37 L110.06,65.64 L110.72,65.93 L111.38,66.23 L112.03,66.54 L112.69,66.85 L113.35,67.18 L114.01,67.52 L114.66,67.87 L115.32,68.24 L115.98,68.61 L116.64,69.00 L117.30,69.41 L117.95,69.83 L118.61,70.26 L119.27,70.71 L119.93,71.18 L120.59,71.67 L121.24,72.17 L121.90,72.70 L122.56,73.25 L123.22,73.81 L123.87,74.40 L124.53,75.02 L125.19,75.66 L125.85,76.32 L126.51,77.02 L127.16,77.74 L127.82,78.50 L128.48,79.28 L129.14,80.11 L129.79,80.96 L130.45,81.86 L131.11,82.80 L131.77,83.77 L132.43,84.80 L133.08,85.87 L133.74,86.99 L134.40,88.16 L135.06,89.38 L135.71,90.67 L136.37,92.02 L137.03,93.43 L137.69,94.91 L138.35,96.46 L139.00,98.08 L139.66,99.79 L140.32,101.58 L140.98,103.45 L141.63,105.42 L142.29,107.48 L142.95,109.64 L143.61,111.91 L144.27,114.28 L144.92,116.76 L145.58,119.36 L146.24,122.08 L146.90,124.92 L147.56,127.88 L148.21,130.96 L148.87,134.17 L149.53,137.49 L150.19,140.94 L150.84,144.49 L151.50,148.15 L152.16,151.90 L152.82,155.74 L153.48,159.63 L154.13,163.57 L154.79,167.53 L155.45,171.48 L156.11,175.38 L156.76,179.21 L157.42,182.92 L158.08,186.47 L158.74,189.82 L159.40,192.91 L160.05,195.71 L160.71,198.17 L161.37,200.24 L162.03,201.90 L162.68,203.10 L163.34,203.83 L164.00,204.08 L164.66,203.83 L165.32,203.10 L165.97,201.90 L166.63,200.24 L167.29,198.17 L167.95,195.71 L168.60,192.91 L169.26,189.82 L169.92,186.47 L170.58,182.92 L171.24,179.21 L171.89,175.38 L172.55,171.48 L173.21,167.53 L173.87,163.57 L174.52,159.63 L175.18,155.74 L175.84,151.90 L176.50,148.15 L177.16,144.49 L177.81,140.94 L178.47,137.49 L179.13,134.17 L179.79,130.96 L180.44,127.88 L181.10,124.92 L181.76,122.08 L182.42,119.36 L183.08,116.76 L183.73,114.28 L184.39,111.91 L185.05,109.64 L185.71,107.48 L186.37,105.42 L187.02,103.45 L187.68,101.58 L188.34,99.79 L189.00,98.08 L189.65,96.46 L190.31,94.91 L190.97,93.43 L191.63,92.02 L192.29,90.67 L192.94,89.38 L193.60,88.16 L194.26,86.99 L194.92,85.87 L195.57,84.80 L196.23,83.77 L196.89,82.80 L197.55,81.86 L198.21,80.96 L198.86,80.11 L199.52,79.28 L200.18,78.50 L200.84,77.74 L201.49,77.02 L202.15,76.32 L202.81,75.66 L203.47,75.02 L204.13,74.40 L204.78,73.81 L205.44,73.25 L206.10,72.70 L206.76,72.17 L207.41,71.67 L208.07,71.18 L208.73,70.71 L209.39,70.26 L210.05,69.83 L210.70,69.41 L211.36,69.00 L212.02,68.61 L212.68,68.24 L213.33,67.87 L213.99,67.52 L214.65,67.18 L215.31,66.85 L215.97,66.54 L216.62,66.23 L217.28,65.93 L217.94,65.64 L218.60,65.37 L219.26,65.10 L219.91,64.84 L220.57,64.58 L221.23,64.34 L221.89,64.10 L222.54,63.87 L223.20,63.65 L223.86,63.43 L224.52,63.22 L225.18,63.02 L225.83,62.82 L226.49,62.63 L227.15,62.44 L227.81,62.26 L228.46,62.08 L229.12,61.91 L229.78,61.74 L230.44,61.58 L231.10,61.42 L231.75,61.27 L232.41,61.12 L233.07,60.97 L233.73,60.83 L234.38,60.69 L235.04,60.56 L235.70,60.43 L236.36,60.30 L237.02,60.17 L237.67,60.05 L238.33,59.93 L238.99,59.82 L239.65,59.70 L240.30,59.59 L240.96,59.49 L241.62,59.38 L242.28,59.28 L242.94,59.18 L243.59,59.08 L244.25,58.99 L244.91,58.89 L245.57,58.80 L246.23,58.71 L246.88,58.63 L247.54,58.54 L248.20,58.46 L248.86,58.38 L249.51,58.30 L250.17,58.22 L250.83,58.14 L251.49,58.07 L252.15,58.00 L252.80,57.93 L253.46,57.86 L254.12,57.79 L254.78,57.72 L255.43,57.65 L256.09,57.59 L256.75,57.53 L257.41,57.47 L258.07,57.41 L258.72,57.35 L259.38,57.29 L260.04,57.23 L260.70,57.18 L261.35,57.12 L262.01,57.07 L262.67,57.01 L263.33,56.96 L263.99,56.91 L264.64,56.86 L265.30,56.81 L265.96,56.77 L266.62,56.72 L267.27,56.67 L267.93,56.63 L268.59,56.58 L269.25,56.54 L269.91,56.50 L270.56,56.45 L271.22,56.41 L271.88,56.37 L272.54,56.33 L273.19,56.29 L273.85,56.26 L274.51,56.22 L275.17,56.18 L275.83,56.14 L276.48,56.11 L277.14,56.07 L277.80,56.04 L278.46,56.00 L279.12,55.97 L279.77,55.94 L280.43,55.90 L281.09,55.87 L281.75,55.84 L282.40,55.81 L283.06,55.78 L283.72,55.75 L284.38,55.72 L285.04,55.69 L285.69,55.66 L286.35,55.64 L287.01,55.61 L287.67,55.58 L288.32,55.55 L288.98,55.53 L289.64,55.50 L290.30,55.48 L290.96,55.45 L291.61,55.43 L292.27,55.40 L292.93,55.38 L293.59,55.35 L294.24,55.33 L294.90,55.31 L295.56,55.28" stroke="#4433d4" stroke-width="1.4" fill="none"/>
</g>
<rect x="35.8" y="30.0" width="256.8" height="188.3" fill="none" stroke="#444" stroke-width="1.25"/>
<path d="M49.60,218.3v-3.7M49.60,30.0v3.7M78.20,218.3v-1.8M78.20,30.0v1.8M106.80,218.3v-3.7M106.80,30.0v3.7M135.40,218.3v-1.8M135.40,30.0v1.8M164.00,218.3v-3.7M164.00,30.0v3.7M192.60,218.3v-1.8M192.60,30.0v1.8M221.20,218.3v-3.7M221.20,30.0v3.7M249.80,218.3v-1.8M249.80,30.0v1.8M278.40,218.3v-3.7M278.40,30.0v3.7M35.8,209.91h1.8M292.6,209.91h-1.8M35.8,187.49h3.7M292.6,187.49h-3.7M35.8,165.07h1.8M292.6,165.07h-1.8M35.8,142.66h3.7M292.6,142.66h-3.7M35.8,120.25h1.8M292.6,120.25h-1.8M35.8,97.83h3.7M292.6,97.83h-3.7M35.8,75.42h1.8M292.6,75.42h-1.8M35.8,53.00h3.7M292.6,53.00h-3.7M35.8,30.58h1.8M292.6,30.58h-1.8" stroke="#444" stroke-width="1.1" fill="none"/>
<text x="50.3" y="147.8" font-size="10" font-family="Liberation Sans, sans-serif" fill="#111" stroke="#111" stroke-width="0.12">Input laser fluence</text>
<circle cx="61.50" cy="158.00" r="3.2" fill="url(#gK)"/>
<text x="73.5" y="161.1" font-size="10" font-family="Liberation Sans, sans-serif" fill="#111" stroke="#111" stroke-width="0.12" xml:space="preserve"> 80 mJ/cm<tspan font-size="6.5" dy="-4">2</tspan></text>
<circle cx="61.50" cy="171.70" r="3.2" fill="url(#gR)"/>
<text x="73.5" y="174.9" font-size="10" font-family="Liberation Sans, sans-serif" fill="#111" stroke="#111" stroke-width="0.12" xml:space="preserve">100 mJ/cm<tspan font-size="6.5" dy="-4">2</tspan></text>
<circle cx="61.50" cy="185.60" r="3.2" fill="url(#gG)"/>
<text x="73.5" y="188.8" font-size="10" font-family="Liberation Sans, sans-serif" fill="#111" stroke="#111" stroke-width="0.12" xml:space="preserve">200 mJ/cm<tspan font-size="6.5" dy="-4">2</tspan></text>
<circle cx="61.50" cy="199.50" r="3.2" fill="url(#gB)"/>
<text x="73.5" y="202.4" font-size="10" font-family="Liberation Sans, sans-serif" fill="#111" stroke="#111" stroke-width="0.12" xml:space="preserve">400 mJ/cm<tspan font-size="6.5" dy="-4">2</tspan></text>
<clipPath id="c00"><rect x="332.4" y="1.4" width="137.0" height="107.5"/></clipPath>
<g clip-path="url(#c00)">
<path d="M331.40,54.60 L331.65,54.58 L331.90,54.56 L332.15,54.54 L332.40,54.52 L332.65,54.50 L332.90,54.47 L333.15,54.45 L333.40,54.42 L333.65,54.40 L333.90,54.37 L334.15,54.35 L334.40,54.32 L334.65,54.30 L334.90,54.27 L335.15,54.24 L335.40,54.21 L335.65,54.18 L335.90,54.15 L336.15,54.12 L336.40,54.09 L336.65,54.06 L336.90,54.03 L337.15,54.00 L337.40,53.97 L337.65,53.94 L337.90,53.90 L338.15,53.87 L338.40,53.84 L338.65,53.80 L338.90,53.77 L339.15,53.73 L339.40,53.70 L339.65,53.66 L339.90,53.62 L340.15,53.59 L340.40,53.55 L340.65,53.51 L340.90,53.48 L341.15,53.44 L341.40,53.40 L341.65,53.36 L341.90,53.32 L342.15,53.28 L342.40,53.24 L342.65,53.20 L342.90,53.16 L343.15,53.12 L343.40,53.08 L343.65,53.04 L343.90,53.00 L344.15,52.95 L344.40,52.91 L344.65,52.87 L344.90,52.83 L345.15,52.78 L345.40,52.74 L345.65,52.70 L345.90,52.65 L346.15,52.61 L346.40,52.56 L346.65,52.52 L346.90,52.47 L347.15,52.43 L347.40,52.38 L347.65,52.34 L347.90,52.29 L348.15,52.25 L348.40,52.20 L348.65,52.15 L348.90,52.11 L349.15,52.06 L349.40,52.01 L349.65,51.97 L349.90,51.92 L350.15,51.87 L350.40,51.82 L350.65,51.78 L350.90,51.73 L351.15,51.68 L351.40,51.63 L351.65,51.58 L351.90,51.53 L352.15,51.48 L352.40,51.43 L352.65,51.38 L352.90,51.33 L353.15,51.27 L353.40,51.22 L353.65,51.17 L353.90,51.11 L354.15,51.06 L354.40,51.00 L354.65,50.95 L354.90,50.89 L355.15,50.84 L355.40,50.78 L355.65,50.72 L355.90,50.66 L356.15,50.60 L356.40,50.54 L356.65,50.48 L356.90,50.42 L357.15,50.36 L357.40,50.29 L357.65,50.23 L357.90,50.16 L358.15,50.10 L358.40,50.03 L358.65,49.96 L358.90,49.90 L359.15,49.83 L359.40,49.76 L359.65,49.69 L359.90,49.61 L360.15,49.54 L360.40,49.47 L360.65,49.39 L360.90,49.32 L361.15,49.24 L361.40,49.16 L361.65,49.08 L361.90,49.00 L362.15,48.92 L362.40,48.84 L362.65,48.75 L362.90,48.67 L363.15,48.58 L363.40,48.50 L363.65,48.41 L363.90,48.32 L364.15,48.23 L364.40,48.13 L364.65,48.04 L364.90,47.94 L365.15,47.85 L365.40,47.75 L365.65,47.65 L365.90,47.55 L366.15,47.44 L366.40,47.34 L366.65,47.23 L366.90,47.12 L367.15,47.01 L367.40,46.90 L367.65,46.79 L367.90,46.67 L368.15,46.55 L368.40,46.43 L368.65,46.31 L368.90,46.18 L369.15,46.06 L369.40,45.93 L369.65,45.80 L369.90,45.66 L370.15,45.53 L370.40,45.39 L370.65,45.25 L370.90,45.10 L371.15,44.96 L371.40,44.81 L371.65,44.66 L371.90,44.51 L372.15,44.35 L372.40,44.19 L372.65,44.03 L372.90,43.86 L373.15,43.69 L373.40,43.52 L373.65,43.35 L373.90,43.17 L374.15,42.99 L374.40,42.81 L374.65,42.63 L374.90,42.44 L375.15,42.24 L375.40,42.05 L375.65,41.85 L375.90,41.65 L376.15,41.44 L376.40,41.22 L376.65,40.98 L376.90,40.71 L377.15,40.42 L377.40,40.12 L377.65,39.79 L377.90,39.46 L378.15,39.11 L378.40,38.75 L378.65,38.40 L378.90,38.04 L379.15,37.68 L379.40,37.32 L379.65,36.97 L379.90,36.63 L380.15,36.30 L380.40,35.97 L380.65,35.65 L380.90,35.32 L381.15,34.99 L381.40,34.66 L381.65,34.33 L381.90,34.00 L382.15,33.67 L382.40,33.34 L382.65,33.00 L382.90,32.67 L383.15,32.33 L383.40,32.00 L383.65,31.66 L383.90,31.32 L384.15,30.98 L384.40,30.63 L384.65,30.29 L384.90,29.94 L385.15,29.59 L385.40,29.23 L385.65,28.86 L385.90,28.49 L386.15,28.11 L386.40,27.73 L386.65,27.35 L386.90,26.96 L387.15,26.58 L387.40,26.19 L387.65,25.81 L387.90,25.43 L388.15,25.05 L388.40,24.68 L388.65,24.31 L388.90,23.95 L389.15,23.61 L389.40,23.27 L389.65,22.94 L389.90,22.62 L390.15,22.31 L390.40,21.98 L390.65,21.64 L390.90,21.28 L391.15,20.93 L391.40,20.58 L391.65,20.25 L391.90,19.94 L392.15,19.66 L392.40,19.42 L392.65,19.23 L392.90,19.09 L393.15,19.01 L393.40,19.01 L393.65,19.15 L393.90,19.42 L394.15,19.82 L394.40,20.33 L394.65,20.94 L394.90,21.64 L395.15,22.41 L395.40,23.25 L395.65,24.15 L395.90,25.07 L396.15,26.03 L396.40,27.00 L396.65,28.14 L396.90,29.57 L397.15,31.26 L397.40,33.16 L397.65,35.21 L397.90,37.37 L398.15,39.61 L398.40,41.86 L398.65,44.08 L398.90,46.23 L399.15,48.26 L399.40,50.14 L399.65,51.99 L399.90,53.85 L400.15,55.70 L400.40,57.53 L400.65,59.34 L400.90,61.11 L401.15,62.83 L401.40,64.49 L401.65,66.09 L401.90,67.65 L402.15,69.25 L402.40,70.87 L402.65,72.47 L402.90,74.05 L403.15,75.57 L403.40,77.02 L403.65,78.37 L403.90,79.60 L404.15,80.68 L404.40,81.60 L404.65,82.33 L404.90,83.00 L405.15,83.65 L405.40,84.28 L405.65,84.88 L405.90,85.45 L406.15,85.97 L406.40,86.44 L406.65,86.86 L406.90,87.21 L407.15,87.48 L407.40,87.68 L407.65,87.78 L407.90,87.80 L408.15,87.75 L408.40,87.66 L408.65,87.54 L408.90,87.38 L409.15,87.20 L409.40,86.99 L409.65,86.77 L409.90,86.55 L410.15,86.32 L410.40,86.09 L410.65,85.86 L410.90,85.61 L411.15,85.33 L411.40,85.02 L411.65,84.69 L411.90,84.35 L412.15,83.99 L412.40,83.63 L412.65,83.26 L412.90,82.89 L413.15,82.52 L413.40,82.16 L413.65,81.81 L413.90,81.46 L414.15,81.12 L414.40,80.77 L414.65,80.42 L414.90,80.07 L415.15,79.71 L415.40,79.34 L415.65,78.98 L415.90,78.61 L416.15,78.25 L416.40,77.88 L416.65,77.51 L416.90,77.14 L417.15,76.77 L417.40,76.41 L417.65,76.04 L417.90,75.68 L418.15,75.32 L418.40,74.97 L418.65,74.62 L418.90,74.27 L419.15,73.93 L419.40,73.60 L419.65,73.27 L419.90,72.95 L420.15,72.63 L420.40,72.33 L420.65,72.03 L420.90,71.74 L421.15,71.46 L421.40,71.19 L421.65,70.93 L421.90,70.66 L422.15,70.40 L422.40,70.14 L422.65,69.89 L422.90,69.63 L423.15,69.38 L423.40,69.14 L423.65,68.89 L423.90,68.65 L424.15,68.41 L424.40,68.18 L424.65,67.95 L424.90,67.72 L425.15,67.50 L425.40,67.28 L425.65,67.06 L425.90,66.85 L426.15,66.64 L426.40,66.44 L426.65,66.24 L426.90,66.04 L427.15,65.85 L427.40,65.66 L427.65,65.48 L427.90,65.30 L428.15,65.13 L428.40,64.96 L428.65,64.80 L428.90,64.64 L429.15,64.48 L429.40,64.33 L429.65,64.17 L429.90,64.02 L430.15,63.88 L430.40,63.73 L430.65,63.59 L430.90,63.45 L431.15,63.31 L431.40,63.17 L431.65,63.04 L431.90,62.90 L432.15,62.77 L432.40,62.65 L432.65,62.52 L432.90,62.40 L433.15,62.28 L433.40,62.16 L433.65,62.05 L433.90,61.94 L434.15,61.83 L434.40,61.72 L434.65,61.62 L434.90,61.51 L435.15,61.42 L435.40,61.32 L435.65,61.23 L435.90,61.14 L436.15,61.05 L436.40,60.97 L436.65,60.88 L436.90,60.80 L437.15,60.72 L437.40,60.65 L437.65,60.57 L437.90,60.49 L438.15,60.42 L438.40,60.35 L438.65,60.27 L438.90,60.20 L439.15,60.14 L439.40,60.07 L439.65,60.00 L439.90,59.94 L440.15,59.87 L440.40,59.81 L440.65,59.75 L440.90,59.69 L441.15,59.63 L441.40,59.58 L441.65,59.52 L441.90,59.47 L442.15,59.42 L442.40,59.36 L442.65,59.31 L442.90,59.27 L443.15,59.22 L443.40,59.17 L443.65,59.13 L443.90,59.08 L444.15,59.04 L444.40,59.00 L444.65,58.96 L444.90,58.92 L445.15,58.88 L445.40,58.84 L445.65,58.81 L445.90,58.77 L446.15,58.74 L446.40,58.71 L446.65,58.67 L446.90,58.64 L447.15,58.61 L447.40,58.58 L447.65,58.55 L447.90,58.52 L448.15,58.48 L448.40,58.45 L448.65,58.42 L448.90,58.39 L449.15,58.36 L449.40,58.33 L449.65,58.30 L449.90,58.27 L450.15,58.24 L450.40,58.21 L450.65,58.18 L450.90,58.15 L451.15,58.12 L451.40,58.09 L451.65,58.05 L451.90,58.02 L452.15,57.98 L452.40,57.94 L452.65,57.90 L452.90,57.86 L453.15,57.82 L453.40,57.78 L453.65,57.73 L453.90,57.69 L454.15,57.65 L454.40,57.61 L454.65,57.57 L454.90,57.53 L455.15,57.49 L455.40,57.45 L455.65,57.42 L455.90,57.38 L456.15,57.35 L456.40,57.32 L456.65,57.29 L456.90,57.27 L457.15,57.25 L457.40,57.23 L457.65,57.22 L457.90,57.21 L458.15,57.20 L458.40,57.20 L458.65,57.20 L458.90,57.20 L459.15,57.20 L459.40,57.20 L459.65,57.20 L459.90,57.20 L460.15,57.20 L460.40,57.20 L460.65,57.20 L460.90,57.20 L461.15,57.20 L461.40,57.20 L461.65,57.20 L461.90,57.20 L462.15,57.20 L462.40,57.20 L462.65,57.20 L462.90,57.20 L463.15,57.20 L463.40,57.20 L463.65,57.20 L463.90,57.20 L464.15,57.20 L464.40,57.20 L464.65,57.20 L464.90,57.20 L465.15,57.20 L465.40,57.20 L465.65,57.20 L465.90,57.20 L466.15,57.20 L466.40,57.20 L466.65,57.20 L466.90,57.20 L467.15,57.20 L467.40,57.20 L467.65,57.20 L467.90,57.20 L468.15,57.20 L468.40,57.20 L468.65,57.20 L468.90,57.20 L469.15,57.20 L469.40,57.20 L469.65,57.20 L469.90,57.20 L470.15,57.20 L470.40,57.20" stroke="#000" stroke-width="0.75" fill="none"/>
<g fill="url(#sK)"><circle cx="333.20" cy="54.50" r="1.4"/><circle cx="335.47" cy="54.50" r="1.4"/><circle cx="337.74" cy="54.50" r="1.4"/><circle cx="340.01" cy="54.50" r="1.4"/><circle cx="342.28" cy="54.50" r="1.4"/><circle cx="344.55" cy="54.50" r="1.4"/><circle cx="346.82" cy="54.29" r="1.4"/><circle cx="349.09" cy="53.77" r="1.4"/><circle cx="351.36" cy="53.41" r="1.4"/><circle cx="353.63" cy="53.14" r="1.4"/><circle cx="355.90" cy="52.91" r="1.4"/><circle cx="358.17" cy="52.66" r="1.4"/><circle cx="360.44" cy="52.37" r="1.4"/><circle cx="362.71" cy="51.98" r="1.4"/><circle cx="364.98" cy="51.36" r="1.4"/><circle cx="367.25" cy="50.42" r="1.4"/><circle cx="369.52" cy="49.29" r="1.4"/><circle cx="371.79" cy="48.00" r="1.4"/><circle cx="374.06" cy="46.42" r="1.4"/><circle cx="376.33" cy="44.59" r="1.4"/><circle cx="378.60" cy="42.15" r="1.4"/><circle cx="380.87" cy="39.62" r="1.4"/><circle cx="383.14" cy="37.84" r="1.4"/><circle cx="385.41" cy="35.74" r="1.4"/><circle cx="387.68" cy="31.49" r="1.4"/><circle cx="389.95" cy="26.51" r="1.4"/><circle cx="392.22" cy="22.17" r="1.4"/><circle cx="394.49" cy="22.05" r="1.4"/><circle cx="396.76" cy="31.66" r="1.4"/><circle cx="399.03" cy="47.30" r="1.4"/><circle cx="401.30" cy="67.49" r="1.4"/><circle cx="403.57" cy="83.80" r="1.4"/><circle cx="405.84" cy="87.06" r="1.4"/><circle cx="408.11" cy="93.23" r="1.4"/><circle cx="410.38" cy="88.53" r="1.4"/><circle cx="412.65" cy="85.68" r="1.4"/><circle cx="414.92" cy="83.17" r="1.4"/><circle cx="417.19" cy="80.84" r="1.4"/><circle cx="419.46" cy="78.63" r="1.4"/><circle cx="421.73" cy="76.50" r="1.4"/><circle cx="424.00" cy="74.37" r="1.4"/><circle cx="426.27" cy="72.33" r="1.4"/><circle cx="428.54" cy="70.49" r="1.4"/><circle cx="430.81" cy="68.88" r="1.4"/><circle cx="433.08" cy="67.42" r="1.4"/><circle cx="435.35" cy="66.10" r="1.4"/><circle cx="437.62" cy="64.94" r="1.4"/><circle cx="439.89" cy="63.91" r="1.4"/><circle cx="442.16" cy="62.96" r="1.4"/><circle cx="444.43" cy="62.05" r="1.4"/><circle cx="446.70" cy="61.19" r="1.4"/><circle cx="448.97" cy="60.38" r="1.4"/><circle cx="451.24" cy="59.62" r="1.4"/><circle cx="453.51" cy="58.77" r="1.4"/><circle cx="455.78" cy="57.90" r="1.4"/><circle cx="458.05" cy="57.30" r="1.4"/><circle cx="460.32" cy="57.20" r="1.4"/><circle cx="462.59" cy="57.21" r="1.4"/><circle cx="464.86" cy="57.25" r="1.4"/><circle cx="467.13" cy="57.33" r="1.4"/><circle cx="469.40" cy="57.48" r="1.4"/></g>
</g>
<rect x="332.4" y="1.4" width="137.0" height="107.5" fill="none" stroke="#444" stroke-width="0.9"/>
<path d="M343.25,108.9v-1.4M343.25,1.4v1.4M354.74,108.9v-2.2M354.74,1.4v2.2M366.23,108.9v-1.4M366.23,1.4v1.4M377.72,108.9v-2.2M377.72,1.4v2.2M389.21,108.9v-1.4M389.21,1.4v1.4M400.70,108.9v-2.2M400.70,1.4v2.2M412.19,108.9v-1.4M412.19,1.4v1.4M423.68,108.9v-2.2M423.68,1.4v2.2M435.17,108.9v-1.4M435.17,1.4v1.4M446.66,108.9v-2.2M446.66,1.4v2.2M458.15,108.9v-1.4M458.15,1.4v1.4M332.4,95.20h2.2M469.4,95.20h-2.2M332.4,81.80h1.4M469.4,81.80h-1.4M332.4,68.40h2.2M469.4,68.40h-2.2M332.4,55.00h1.4M469.4,55.00h-1.4M332.4,41.60h2.2M469.4,41.60h-2.2M332.4,28.20h1.4M469.4,28.20h-1.4M332.4,14.80h2.2M469.4,14.80h-2.2" stroke="#444" stroke-width="0.7" fill="none"/>
<text x="331.10" y="97.15" font-size="5.4" text-anchor="end" font-family="Liberation Sans, sans-serif" fill="#151515" stroke="#151515" stroke-width="0.08">0.4</text>
<text x="331.10" y="70.35" font-size="5.4" text-anchor="end" font-family="Liberation Sans, sans-serif" fill="#151515" stroke="#151515" stroke-width="0.08">0.8</text>
<text x="331.10" y="43.55" font-size="5.4" text-anchor="end" font-family="Liberation Sans, sans-serif" fill="#151515" stroke="#151515" stroke-width="0.08">1.2</text>
<text x="331.10" y="16.75" font-size="5.4" text-anchor="end" font-family="Liberation Sans, sans-serif" fill="#151515" stroke="#151515" stroke-width="0.08">1.6</text>
<text transform="translate(319.20,55.20) rotate(-90)" font-size="7.1" text-anchor="middle" font-family="Liberation Sans, sans-serif" fill="#151515" stroke="#151515" stroke-width="0.08">Normalized transmission</text>
<text x="337.29999999999995" y="12.40" font-size="6.4" font-family="Liberation Sans, sans-serif" fill="#151515" stroke="#151515" stroke-width="0.08">(a)</text>
<text x="465.00" y="11.80" font-size="6.55" text-anchor="end" font-family="Liberation Sans, sans-serif" fill="#151515" stroke="#151515" stroke-width="0.08">Input fluence=80 mJ/cm<tspan font-size="4.2" dy="-2.8">2</tspan></text>
<text x="456.60" y="20.30" font-size="6.5" text-anchor="end" font-family="Liberation Sans, sans-serif" fill="#151515" stroke="#151515" stroke-width="0.08">n<tspan font-size="4.2" dy="1.5">2</tspan><tspan dy="-1.5">=3.63 cm</tspan><tspan font-size="4.2" dy="-2.8">2</tspan><tspan dy="2.8">/GW</tspan></text>
<clipPath id="c10"><rect x="478.4" y="1.4" width="135.39999999999998" height="107.5"/></clipPath>
<g clip-path="url(#c10)">
<path d="M477.40,53.60 L477.65,53.60 L477.90,53.60 L478.15,53.60 L478.40,53.60 L478.65,53.60 L478.90,53.60 L479.15,53.59 L479.40,53.59 L479.65,53.59 L479.90,53.58 L480.15,53.57 L480.40,53.57 L480.65,53.56 L480.90,53.55 L481.15,53.55 L481.40,53.54 L481.65,53.53 L481.90,53.52 L482.15,53.51 L482.40,53.50 L482.65,53.48 L482.90,53.47 L483.15,53.46 L483.40,53.45 L483.65,53.43 L483.90,53.42 L484.15,53.41 L484.40,53.39 L484.65,53.38 L484.90,53.36 L485.15,53.35 L485.40,53.33 L485.65,53.31 L485.90,53.30 L486.15,53.28 L486.40,53.26 L486.65,53.25 L486.90,53.23 L487.15,53.21 L487.40,53.19 L487.65,53.18 L487.90,53.16 L488.15,53.14 L488.40,53.12 L488.65,53.10 L488.90,53.08 L489.15,53.06 L489.40,53.05 L489.65,53.03 L489.90,53.01 L490.15,52.99 L490.40,52.97 L490.65,52.95 L490.90,52.92 L491.15,52.90 L491.40,52.88 L491.65,52.85 L491.90,52.82 L492.15,52.80 L492.40,52.77 L492.65,52.74 L492.90,52.71 L493.15,52.68 L493.40,52.65 L493.65,52.61 L493.90,52.58 L494.15,52.55 L494.40,52.51 L494.65,52.47 L494.90,52.44 L495.15,52.40 L495.40,52.36 L495.65,52.33 L495.90,52.29 L496.15,52.25 L496.40,52.21 L496.65,52.17 L496.90,52.13 L497.15,52.09 L497.40,52.05 L497.65,52.01 L497.90,51.97 L498.15,51.92 L498.40,51.88 L498.65,51.83 L498.90,51.79 L499.15,51.74 L499.40,51.69 L499.65,51.64 L499.90,51.59 L500.15,51.54 L500.40,51.49 L500.65,51.43 L500.90,51.38 L501.15,51.32 L501.40,51.27 L501.65,51.21 L501.90,51.15 L502.15,51.09 L502.40,51.02 L502.65,50.96 L502.90,50.90 L503.15,50.83 L503.40,50.76 L503.65,50.70 L503.90,50.63 L504.15,50.56 L504.40,50.48 L504.65,50.41 L504.90,50.33 L505.15,50.25 L505.40,50.17 L505.65,50.08 L505.90,50.00 L506.15,49.91 L506.40,49.82 L506.65,49.73 L506.90,49.63 L507.15,49.54 L507.40,49.44 L507.65,49.34 L507.90,49.24 L508.15,49.14 L508.40,49.03 L508.65,48.93 L508.90,48.82 L509.15,48.72 L509.40,48.61 L509.65,48.50 L509.90,48.40 L510.15,48.29 L510.40,48.18 L510.65,48.07 L510.90,47.96 L511.15,47.84 L511.40,47.73 L511.65,47.62 L511.90,47.51 L512.15,47.39 L512.40,47.27 L512.65,47.16 L512.90,47.04 L513.15,46.92 L513.40,46.79 L513.65,46.67 L513.90,46.54 L514.15,46.41 L514.40,46.28 L514.65,46.15 L514.90,46.02 L515.15,45.88 L515.40,45.74 L515.65,45.60 L515.90,45.46 L516.15,45.31 L516.40,45.16 L516.65,45.01 L516.90,44.85 L517.15,44.70 L517.40,44.54 L517.65,44.37 L517.90,44.20 L518.15,44.04 L518.40,43.86 L518.65,43.69 L518.90,43.51 L519.15,43.33 L519.40,43.14 L519.65,42.95 L519.90,42.76 L520.15,42.56 L520.40,42.36 L520.65,42.15 L520.90,41.94 L521.15,41.72 L521.40,41.50 L521.65,41.28 L521.90,41.05 L522.15,40.81 L522.40,40.57 L522.65,40.32 L522.90,40.07 L523.15,39.81 L523.40,39.55 L523.65,39.28 L523.90,39.00 L524.15,38.71 L524.40,38.39 L524.65,38.06 L524.90,37.71 L525.15,37.34 L525.40,36.95 L525.65,36.55 L525.90,36.14 L526.15,35.72 L526.40,35.28 L526.65,34.85 L526.90,34.40 L527.15,33.95 L527.40,33.50 L527.65,33.04 L527.90,32.59 L528.15,32.14 L528.40,31.69 L528.65,31.24 L528.90,30.81 L529.15,30.38 L529.40,29.96 L529.65,29.55 L529.90,29.15 L530.15,28.77 L530.40,28.36 L530.65,27.94 L530.90,27.50 L531.15,27.05 L531.40,26.59 L531.65,26.12 L531.90,25.65 L532.15,25.17 L532.40,24.69 L532.65,24.22 L532.90,23.75 L533.15,23.29 L533.40,22.84 L533.65,22.40 L533.90,21.98 L534.15,21.57 L534.40,21.19 L534.65,20.82 L534.90,20.49 L535.15,20.18 L535.40,19.90 L535.65,19.65 L535.90,19.44 L536.15,19.27 L536.40,19.14 L536.65,19.05 L536.90,19.00 L537.15,19.02 L537.40,19.12 L537.65,19.30 L537.90,19.57 L538.15,19.92 L538.40,20.34 L538.65,20.82 L538.90,21.37 L539.15,21.98 L539.40,22.65 L539.65,23.36 L539.90,24.12 L540.15,24.92 L540.40,25.76 L540.65,26.62 L540.90,27.66 L541.15,29.13 L541.40,30.95 L541.65,33.03 L541.90,35.29 L542.15,37.64 L542.40,39.98 L542.65,42.25 L542.90,44.71 L543.15,47.42 L543.40,50.24 L543.65,53.04 L543.90,55.69 L544.15,58.05 L544.40,60.00 L544.65,61.67 L544.90,63.30 L545.15,64.87 L545.40,66.40 L545.65,67.87 L545.90,69.29 L546.15,70.66 L546.40,71.97 L546.65,73.23 L546.90,74.43 L547.15,75.58 L547.40,76.67 L547.65,77.70 L547.90,78.67 L548.15,79.59 L548.40,80.44 L548.65,81.23 L548.90,81.96 L549.15,82.63 L549.40,83.24 L549.65,83.86 L549.90,84.46 L550.15,85.01 L550.40,85.47 L550.65,85.81 L550.90,85.98 L551.15,85.99 L551.40,85.90 L551.65,85.75 L551.90,85.55 L552.15,85.30 L552.40,85.01 L552.65,84.70 L552.90,84.37 L553.15,84.04 L553.40,83.71 L553.65,83.40 L553.90,83.11 L554.15,82.84 L554.40,82.58 L554.65,82.31 L554.90,82.04 L555.15,81.76 L555.40,81.48 L555.65,81.20 L555.90,80.92 L556.15,80.64 L556.40,80.36 L556.65,80.08 L556.90,79.80 L557.15,79.52 L557.40,79.25 L557.65,78.98 L557.90,78.71 L558.15,78.45 L558.40,78.20 L558.65,77.95 L558.90,77.70 L559.15,77.46 L559.40,77.22 L559.65,76.98 L559.90,76.74 L560.15,76.51 L560.40,76.27 L560.65,76.04 L560.90,75.81 L561.15,75.58 L561.40,75.35 L561.65,75.12 L561.90,74.90 L562.15,74.67 L562.40,74.45 L562.65,74.23 L562.90,74.02 L563.15,73.80 L563.40,73.59 L563.65,73.38 L563.90,73.17 L564.15,72.97 L564.40,72.76 L564.65,72.56 L564.90,72.36 L565.15,72.17 L565.40,71.97 L565.65,71.78 L565.90,71.59 L566.15,71.41 L566.40,71.23 L566.65,71.05 L566.90,70.87 L567.15,70.69 L567.40,70.51 L567.65,70.34 L567.90,70.17 L568.15,69.99 L568.40,69.82 L568.65,69.66 L568.90,69.49 L569.15,69.32 L569.40,69.16 L569.65,69.00 L569.90,68.84 L570.15,68.68 L570.40,68.52 L570.65,68.37 L570.90,68.22 L571.15,68.07 L571.40,67.92 L571.65,67.77 L571.90,67.63 L572.15,67.49 L572.40,67.35 L572.65,67.21 L572.90,67.07 L573.15,66.94 L573.40,66.81 L573.65,66.68 L573.90,66.55 L574.15,66.42 L574.40,66.30 L574.65,66.18 L574.90,66.06 L575.15,65.94 L575.40,65.82 L575.65,65.70 L575.90,65.59 L576.15,65.48 L576.40,65.36 L576.65,65.25 L576.90,65.15 L577.15,65.04 L577.40,64.93 L577.65,64.82 L577.90,64.72 L578.15,64.62 L578.40,64.52 L578.65,64.41 L578.90,64.31 L579.15,64.22 L579.40,64.12 L579.65,64.02 L579.90,63.92 L580.15,63.83 L580.40,63.73 L580.65,63.64 L580.90,63.55 L581.15,63.45 L581.40,63.36 L581.65,63.27 L581.90,63.18 L582.15,63.09 L582.40,63.00 L582.65,62.91 L582.90,62.83 L583.15,62.74 L583.40,62.65 L583.65,62.57 L583.90,62.48 L584.15,62.40 L584.40,62.31 L584.65,62.23 L584.90,62.15 L585.15,62.07 L585.40,61.99 L585.65,61.91 L585.90,61.83 L586.15,61.75 L586.40,61.68 L586.65,61.60 L586.90,61.53 L587.15,61.45 L587.40,61.38 L587.65,61.31 L587.90,61.24 L588.15,61.17 L588.40,61.11 L588.65,61.04 L588.90,60.97 L589.15,60.91 L589.40,60.84 L589.65,60.77 L589.90,60.71 L590.15,60.64 L590.40,60.57 L590.65,60.50 L590.90,60.43 L591.15,60.37 L591.40,60.30 L591.65,60.23 L591.90,60.16 L592.15,60.09 L592.40,60.03 L592.65,59.96 L592.90,59.89 L593.15,59.83 L593.40,59.76 L593.65,59.70 L593.90,59.63 L594.15,59.57 L594.40,59.51 L594.65,59.45 L594.90,59.39 L595.15,59.33 L595.40,59.28 L595.65,59.22 L595.90,59.17 L596.15,59.12 L596.40,59.07 L596.65,59.02 L596.90,58.97 L597.15,58.93 L597.40,58.89 L597.65,58.85 L597.90,58.81 L598.15,58.78 L598.40,58.74 L598.65,58.71 L598.90,58.69 L599.15,58.66 L599.40,58.64 L599.65,58.62 L599.90,58.61 L600.15,58.59 L600.40,58.58 L600.65,58.57 L600.90,58.55 L601.15,58.54 L601.40,58.53 L601.65,58.52 L601.90,58.51 L602.15,58.49 L602.40,58.48 L602.65,58.47 L602.90,58.46 L603.15,58.45 L603.40,58.44 L603.65,58.43 L603.90,58.42 L604.15,58.41 L604.40,58.40 L604.65,58.39 L604.90,58.38 L605.15,58.37 L605.40,58.36 L605.65,58.35 L605.90,58.34 L606.15,58.33 L606.40,58.33 L606.65,58.32 L606.90,58.31 L607.15,58.30 L607.40,58.29 L607.65,58.29 L607.90,58.28 L608.15,58.27 L608.40,58.27 L608.65,58.26 L608.90,58.26 L609.15,58.25 L609.40,58.25 L609.65,58.24 L609.90,58.24 L610.15,58.23 L610.40,58.23 L610.65,58.22 L610.90,58.22 L611.15,58.22 L611.40,58.21 L611.65,58.21 L611.90,58.21 L612.15,58.21 L612.40,58.20 L612.65,58.20 L612.90,58.20 L613.15,58.20 L613.40,58.20 L613.65,58.20 L613.90,58.20 L614.15,58.20 L614.40,58.20 L614.65,58.20" stroke="#e01818" stroke-width="0.75" fill="none"/>
<g fill="url(#sR)"><circle cx="479.20" cy="54.35" r="1.4"/><circle cx="481.47" cy="54.74" r="1.4"/><circle cx="483.74" cy="55.07" r="1.4"/><circle cx="486.01" cy="55.34" r="1.4"/><circle cx="488.28" cy="55.52" r="1.4"/><circle cx="490.55" cy="55.60" r="1.4"/><circle cx="492.82" cy="55.59" r="1.4"/><circle cx="495.09" cy="55.56" r="1.4"/><circle cx="497.36" cy="55.50" r="1.4"/><circle cx="499.63" cy="55.42" r="1.4"/><circle cx="501.90" cy="55.20" r="1.4"/><circle cx="504.17" cy="54.71" r="1.4"/><circle cx="506.44" cy="54.05" r="1.4"/><circle cx="508.71" cy="52.94" r="1.4"/><circle cx="510.98" cy="51.48" r="1.4"/><circle cx="513.25" cy="49.65" r="1.4"/><circle cx="515.52" cy="47.66" r="1.4"/><circle cx="517.79" cy="45.53" r="1.4"/><circle cx="520.06" cy="43.23" r="1.4"/><circle cx="522.33" cy="41.10" r="1.4"/><circle cx="524.60" cy="38.80" r="1.4"/><circle cx="526.87" cy="35.83" r="1.4"/><circle cx="529.14" cy="32.89" r="1.4"/><circle cx="531.41" cy="29.43" r="1.4"/><circle cx="533.68" cy="25.80" r="1.4"/><circle cx="535.95" cy="20.31" r="1.4"/><circle cx="538.22" cy="20.30" r="1.4"/><circle cx="540.49" cy="29.92" r="1.4"/><circle cx="542.76" cy="48.50" r="1.4"/><circle cx="545.03" cy="66.38" r="1.4"/><circle cx="547.30" cy="78.92" r="1.4"/><circle cx="549.57" cy="90.07" r="1.4"/><circle cx="551.84" cy="87.90" r="1.4"/><circle cx="554.11" cy="85.83" r="1.4"/><circle cx="556.38" cy="84.26" r="1.4"/><circle cx="558.65" cy="82.59" r="1.4"/><circle cx="560.92" cy="81.42" r="1.4"/><circle cx="563.19" cy="80.17" r="1.4"/><circle cx="565.46" cy="78.54" r="1.4"/><circle cx="567.73" cy="76.17" r="1.4"/><circle cx="570.00" cy="73.10" r="1.4"/><circle cx="572.27" cy="70.00" r="1.4"/><circle cx="574.54" cy="67.73" r="1.4"/><circle cx="576.81" cy="66.00" r="1.4"/><circle cx="579.08" cy="64.86" r="1.4"/><circle cx="581.35" cy="64.02" r="1.4"/><circle cx="583.62" cy="63.28" r="1.4"/><circle cx="585.89" cy="62.46" r="1.4"/><circle cx="588.16" cy="61.53" r="1.4"/><circle cx="590.43" cy="60.65" r="1.4"/><circle cx="592.70" cy="59.95" r="1.4"/><circle cx="594.97" cy="59.34" r="1.4"/><circle cx="597.24" cy="58.81" r="1.4"/><circle cx="599.51" cy="58.52" r="1.4"/><circle cx="601.78" cy="58.47" r="1.4"/><circle cx="604.05" cy="58.45" r="1.4"/><circle cx="606.32" cy="58.43" r="1.4"/><circle cx="608.59" cy="58.41" r="1.4"/><circle cx="610.86" cy="58.40" r="1.4"/><circle cx="613.13" cy="58.40" r="1.4"/></g>
</g>
<rect x="478.4" y="1.4" width="135.39999999999998" height="107.5" fill="none" stroke="#444" stroke-width="0.9"/>
<path d="M488.75,108.9v-1.4M488.75,1.4v1.4M500.24,108.9v-2.2M500.24,1.4v2.2M511.73,108.9v-1.4M511.73,1.4v1.4M523.22,108.9v-2.2M523.22,1.4v2.2M534.71,108.9v-1.4M534.71,1.4v1.4M546.20,108.9v-2.2M546.20,1.4v2.2M557.69,108.9v-1.4M557.69,1.4v1.4M569.18,108.9v-2.2M569.18,1.4v2.2M580.67,108.9v-1.4M580.67,1.4v1.4M592.16,108.9v-2.2M592.16,1.4v2.2M603.65,108.9v-1.4M603.65,1.4v1.4M478.4,95.20h2.2M613.8,95.20h-2.2M478.4,81.80h1.4M613.8,81.80h-1.4M478.4,68.40h2.2M613.8,68.40h-2.2M478.4,55.00h1.4M613.8,55.00h-1.4M478.4,41.60h2.2M613.8,41.60h-2.2M478.4,28.20h1.4M613.8,28.20h-1.4M478.4,14.80h2.2M613.8,14.80h-2.2" stroke="#444" stroke-width="0.7" fill="none"/>
<text x="615.10" y="97.15" font-size="5.4" font-family="Liberation Sans, sans-serif" fill="#151515" stroke="#151515" stroke-width="0.08">0.4</text>
<text x="615.10" y="70.35" font-size="5.4" font-family="Liberation Sans, sans-serif" fill="#151515" stroke="#151515" stroke-width="0.08">0.8</text>
<text x="615.10" y="43.55" font-size="5.4" font-family="Liberation Sans, sans-serif" fill="#151515" stroke="#151515" stroke-width="0.08">1.2</text>
<text x="615.10" y="16.75" font-size="5.4" font-family="Liberation Sans, sans-serif" fill="#151515" stroke="#151515" stroke-width="0.08">1.6</text>
<text transform="translate(633.40,53.20) rotate(-90)" font-size="6.9" text-anchor="middle" font-family="Liberation Sans, sans-serif" fill="#151515" stroke="#151515" stroke-width="0.08">Normalized transmission</text>
<text x="483.29999999999995" y="12.40" font-size="6.4" font-family="Liberation Sans, sans-serif" fill="#151515" stroke="#151515" stroke-width="0.08">(b)</text>
<text x="607.00" y="12.10" font-size="6.55" text-anchor="end" font-family="Liberation Sans, sans-serif" fill="#151515" stroke="#151515" stroke-width="0.08">Input fluence=100 mJ/cm<tspan font-size="4.2" dy="-2.8">2</tspan></text>
<text x="602.70" y="20.50" font-size="6.5" text-anchor="end" font-family="Liberation Sans, sans-serif" fill="#151515" stroke="#151515" stroke-width="0.08">n<tspan font-size="4.2" dy="1.5">2</tspan><tspan dy="-1.5">=2.82 cm</tspan><tspan font-size="4.2" dy="-2.8">2</tspan><tspan dy="2.8">/GW</tspan></text>
<clipPath id="c01"><rect x="332.4" y="119.5" width="137.0" height="106.1"/></clipPath>
<g clip-path="url(#c01)">
<path d="M331.40,174.29 L331.65,174.29 L331.90,174.30 L332.15,174.30 L332.40,174.30 L332.65,174.30 L332.90,174.30 L333.15,174.30 L333.40,174.30 L333.65,174.29 L333.90,174.29 L334.15,174.28 L334.40,174.28 L334.65,174.27 L334.90,174.26 L335.15,174.26 L335.40,174.25 L335.65,174.24 L335.90,174.23 L336.15,174.21 L336.40,174.20 L336.65,174.19 L336.90,174.18 L337.15,174.16 L337.40,174.15 L337.65,174.13 L337.90,174.11 L338.15,174.10 L338.40,174.08 L338.65,174.06 L338.90,174.04 L339.15,174.02 L339.40,174.00 L339.65,173.98 L339.90,173.96 L340.15,173.93 L340.40,173.91 L340.65,173.88 L340.90,173.86 L341.15,173.83 L341.40,173.81 L341.65,173.78 L341.90,173.75 L342.15,173.73 L342.40,173.70 L342.65,173.67 L342.90,173.64 L343.15,173.61 L343.40,173.58 L343.65,173.55 L343.90,173.51 L344.15,173.48 L344.40,173.45 L344.65,173.41 L344.90,173.38 L345.15,173.35 L345.40,173.31 L345.65,173.27 L345.90,173.24 L346.15,173.20 L346.40,173.16 L346.65,173.13 L346.90,173.09 L347.15,173.05 L347.40,173.01 L347.65,172.97 L347.90,172.93 L348.15,172.89 L348.40,172.85 L348.65,172.81 L348.90,172.77 L349.15,172.73 L349.40,172.68 L349.65,172.64 L349.90,172.60 L350.15,172.55 L350.40,172.51 L350.65,172.47 L350.90,172.42 L351.15,172.38 L351.40,172.33 L351.65,172.29 L351.90,172.24 L352.15,172.19 L352.40,172.15 L352.65,172.10 L352.90,172.05 L353.15,172.01 L353.40,171.96 L353.65,171.91 L353.90,171.86 L354.15,171.81 L354.40,171.77 L354.65,171.72 L354.90,171.67 L355.15,171.62 L355.40,171.57 L355.65,171.52 L355.90,171.47 L356.15,171.42 L356.40,171.37 L356.65,171.32 L356.90,171.27 L357.15,171.22 L357.40,171.16 L357.65,171.11 L357.90,171.06 L358.15,171.01 L358.40,170.96 L358.65,170.90 L358.90,170.85 L359.15,170.79 L359.40,170.73 L359.65,170.67 L359.90,170.61 L360.15,170.54 L360.40,170.48 L360.65,170.41 L360.90,170.34 L361.15,170.27 L361.40,170.20 L361.65,170.12 L361.90,170.04 L362.15,169.97 L362.40,169.88 L362.65,169.80 L362.90,169.72 L363.15,169.63 L363.40,169.54 L363.65,169.45 L363.90,169.36 L364.15,169.27 L364.40,169.17 L364.65,169.08 L364.90,168.98 L365.15,168.88 L365.40,168.77 L365.65,168.67 L365.90,168.56 L366.15,168.45 L366.40,168.34 L366.65,168.23 L366.90,168.11 L367.15,168.00 L367.40,167.88 L367.65,167.76 L367.90,167.63 L368.15,167.51 L368.40,167.38 L368.65,167.25 L368.90,167.12 L369.15,166.99 L369.40,166.85 L369.65,166.72 L369.90,166.58 L370.15,166.44 L370.40,166.29 L370.65,166.15 L370.90,166.00 L371.15,165.85 L371.40,165.70 L371.65,165.54 L371.90,165.37 L372.15,165.18 L372.40,164.98 L372.65,164.77 L372.90,164.55 L373.15,164.31 L373.40,164.07 L373.65,163.82 L373.90,163.56 L374.15,163.29 L374.40,163.02 L374.65,162.74 L374.90,162.46 L375.15,162.17 L375.40,161.87 L375.65,161.58 L375.90,161.28 L376.15,160.98 L376.40,160.68 L376.65,160.38 L376.90,160.09 L377.15,159.79 L377.40,159.49 L377.65,159.20 L377.90,158.91 L378.15,158.63 L378.40,158.35 L378.65,158.07 L378.90,157.79 L379.15,157.51 L379.40,157.22 L379.65,156.94 L379.90,156.65 L380.15,156.35 L380.40,156.05 L380.65,155.74 L380.90,155.42 L381.15,155.09 L381.40,154.76 L381.65,154.41 L381.90,154.05 L382.15,153.67 L382.40,153.28 L382.65,152.86 L382.90,152.43 L383.15,151.99 L383.40,151.52 L383.65,151.05 L383.90,150.56 L384.15,150.06 L384.40,149.55 L384.65,149.04 L384.90,148.52 L385.15,147.99 L385.40,147.45 L385.65,146.92 L385.90,146.38 L386.15,145.85 L386.40,145.31 L386.65,144.78 L386.90,144.25 L387.15,143.72 L387.40,143.21 L387.65,142.70 L387.90,142.20 L388.15,141.70 L388.40,141.16 L388.65,140.59 L388.90,140.00 L389.15,139.38 L389.40,138.75 L389.65,138.10 L389.90,137.45 L390.15,136.81 L390.40,136.17 L390.65,135.54 L390.90,134.94 L391.15,134.36 L391.40,133.82 L391.65,133.31 L391.90,132.84 L392.15,132.43 L392.40,132.07 L392.65,131.77 L392.90,131.54 L393.15,131.38 L393.40,131.31 L393.65,131.33 L393.90,131.51 L394.15,131.85 L394.40,132.32 L394.65,132.93 L394.90,133.64 L395.15,134.46 L395.40,135.38 L395.65,136.36 L395.90,137.42 L396.15,138.52 L396.40,139.66 L396.65,140.85 L396.90,142.44 L397.15,144.51 L397.40,146.92 L397.65,149.56 L397.90,152.28 L398.15,154.94 L398.40,157.43 L398.65,159.60 L398.90,161.44 L399.15,163.18 L399.40,165.11 L399.65,167.55 L399.90,170.67 L400.15,174.26 L400.40,178.08 L400.65,181.89 L400.90,185.44 L401.15,188.50 L401.40,190.89 L401.65,193.04 L401.90,195.07 L402.15,196.99 L402.40,198.79 L402.65,200.49 L402.90,202.07 L403.15,203.54 L403.40,204.89 L403.65,206.14 L403.90,207.28 L404.15,208.33 L404.40,209.38 L404.65,210.43 L404.90,211.47 L405.15,212.47 L405.40,213.44 L405.65,214.34 L405.90,215.17 L406.15,215.91 L406.40,216.55 L406.65,217.08 L406.90,217.47 L407.15,217.71 L407.40,217.80 L407.65,217.76 L407.90,217.66 L408.15,217.50 L408.40,217.29 L408.65,217.04 L408.90,216.76 L409.15,216.47 L409.40,216.18 L409.65,215.88 L409.90,215.61 L410.15,215.34 L410.40,215.08 L410.65,214.80 L410.90,214.51 L411.15,214.22 L411.40,213.92 L411.65,213.61 L411.90,213.30 L412.15,212.98 L412.40,212.65 L412.65,212.32 L412.90,211.98 L413.15,211.64 L413.40,211.29 L413.65,210.95 L413.90,210.59 L414.15,210.24 L414.40,209.88 L414.65,209.52 L414.90,209.16 L415.15,208.80 L415.40,208.43 L415.65,208.07 L415.90,207.70 L416.15,207.34 L416.40,206.98 L416.65,206.62 L416.90,206.26 L417.15,205.90 L417.40,205.54 L417.65,205.19 L417.90,204.83 L418.15,204.46 L418.40,204.09 L418.65,203.71 L418.90,203.33 L419.15,202.94 L419.40,202.55 L419.65,202.16 L419.90,201.76 L420.15,201.36 L420.40,200.96 L420.65,200.56 L420.90,200.16 L421.15,199.76 L421.40,199.36 L421.65,198.96 L421.90,198.56 L422.15,198.16 L422.40,197.76 L422.65,197.37 L422.90,196.98 L423.15,196.59 L423.40,196.21 L423.65,195.83 L423.90,195.46 L424.15,195.09 L424.40,194.73 L424.65,194.37 L424.90,194.02 L425.15,193.68 L425.40,193.35 L425.65,193.03 L425.90,192.71 L426.15,192.41 L426.40,192.12 L426.65,191.83 L426.90,191.54 L427.15,191.26 L427.40,190.98 L427.65,190.70 L427.90,190.42 L428.15,190.15 L428.40,189.87 L428.65,189.60 L428.90,189.34 L429.15,189.07 L429.40,188.81 L429.65,188.55 L429.90,188.29 L430.15,188.04 L430.40,187.79 L430.65,187.55 L430.90,187.31 L431.15,187.07 L431.40,186.84 L431.65,186.61 L431.90,186.39 L432.15,186.17 L432.40,185.96 L432.65,185.75 L432.90,185.55 L433.15,185.35 L433.40,185.16 L433.65,184.98 L433.90,184.80 L434.15,184.63 L434.40,184.47 L434.65,184.31 L434.90,184.16 L435.15,184.01 L435.40,183.87 L435.65,183.73 L435.90,183.59 L436.15,183.46 L436.40,183.32 L436.65,183.19 L436.90,183.06 L437.15,182.93 L437.40,182.81 L437.65,182.69 L437.90,182.56 L438.15,182.45 L438.40,182.33 L438.65,182.22 L438.90,182.11 L439.15,182.00 L439.40,181.90 L439.65,181.79 L439.90,181.69 L440.15,181.60 L440.40,181.50 L440.65,181.41 L440.90,181.33 L441.15,181.24 L441.40,181.16 L441.65,181.08 L441.90,181.01 L442.15,180.94 L442.40,180.87 L442.65,180.81 L442.90,180.75 L443.15,180.69 L443.40,180.63 L443.65,180.58 L443.90,180.53 L444.15,180.47 L444.40,180.42 L444.65,180.37 L444.90,180.32 L445.15,180.27 L445.40,180.22 L445.65,180.17 L445.90,180.12 L446.15,180.08 L446.40,180.03 L446.65,179.99 L446.90,179.94 L447.15,179.90 L447.40,179.86 L447.65,179.82 L447.90,179.78 L448.15,179.74 L448.40,179.70 L448.65,179.66 L448.90,179.62 L449.15,179.58 L449.40,179.54 L449.65,179.51 L449.90,179.47 L450.15,179.44 L450.40,179.41 L450.65,179.37 L450.90,179.34 L451.15,179.31 L451.40,179.28 L451.65,179.25 L451.90,179.22 L452.15,179.19 L452.40,179.16 L452.65,179.13 L452.90,179.10 L453.15,179.08 L453.40,179.05 L453.65,179.03 L453.90,179.00 L454.15,178.98 L454.40,178.95 L454.65,178.93 L454.90,178.91 L455.15,178.89 L455.40,178.86 L455.65,178.84 L455.90,178.82 L456.15,178.80 L456.40,178.78 L456.65,178.77 L456.90,178.75 L457.15,178.73 L457.40,178.71 L457.65,178.69 L457.90,178.67 L458.15,178.65 L458.40,178.63 L458.65,178.61 L458.90,178.60 L459.15,178.58 L459.40,178.56 L459.65,178.54 L459.90,178.52 L460.15,178.51 L460.40,178.49 L460.65,178.47 L460.90,178.46 L461.15,178.44 L461.40,178.42 L461.65,178.41 L461.90,178.39 L462.15,178.37 L462.40,178.36 L462.65,178.34 L462.90,178.33 L463.15,178.32 L463.40,178.30 L463.65,178.29 L463.90,178.28 L464.15,178.26 L464.40,178.25 L464.65,178.24 L464.90,178.23 L465.15,178.21 L465.40,178.20 L465.65,178.19 L465.90,178.18 L466.15,178.17 L466.40,178.17 L466.65,178.16 L466.90,178.15 L467.15,178.14 L467.40,178.14 L467.65,178.13 L467.90,178.12 L468.15,178.12 L468.40,178.11 L468.65,178.11 L468.90,178.11 L469.15,178.10 L469.40,178.10 L469.65,178.10 L469.90,178.10 L470.15,178.10 L470.40,178.10" stroke="#7cf522" stroke-width="0.75" fill="none"/>
<g fill="url(#sG)"><circle cx="333.20" cy="176.00" r="1.4"/><circle cx="335.47" cy="176.00" r="1.4"/><circle cx="337.74" cy="176.00" r="1.4"/><circle cx="340.01" cy="176.00" r="1.4"/><circle cx="342.28" cy="176.00" r="1.4"/><circle cx="344.55" cy="176.00" r="1.4"/><circle cx="346.82" cy="175.95" r="1.4"/><circle cx="349.09" cy="175.75" r="1.4"/><circle cx="351.36" cy="175.45" r="1.4"/><circle cx="353.63" cy="175.08" r="1.4"/><circle cx="355.90" cy="174.69" r="1.4"/><circle cx="358.17" cy="174.30" r="1.4"/><circle cx="360.44" cy="173.95" r="1.4"/><circle cx="362.71" cy="173.54" r="1.4"/><circle cx="364.98" cy="172.94" r="1.4"/><circle cx="367.25" cy="171.60" r="1.4"/><circle cx="369.52" cy="169.75" r="1.4"/><circle cx="371.79" cy="168.18" r="1.4"/><circle cx="374.06" cy="167.03" r="1.4"/><circle cx="376.33" cy="165.97" r="1.4"/><circle cx="378.60" cy="164.77" r="1.4"/><circle cx="380.87" cy="163.12" r="1.4"/><circle cx="383.14" cy="159.71" r="1.4"/><circle cx="385.41" cy="154.59" r="1.4"/><circle cx="387.68" cy="149.52" r="1.4"/><circle cx="389.95" cy="139.67" r="1.4"/><circle cx="392.22" cy="135.13" r="1.4"/><circle cx="394.49" cy="132.80" r="1.4"/><circle cx="396.76" cy="142.89" r="1.4"/><circle cx="399.03" cy="162.08" r="1.4"/><circle cx="401.30" cy="192.00" r="1.4"/><circle cx="403.57" cy="208.04" r="1.4"/><circle cx="405.84" cy="216.26" r="1.4"/><circle cx="408.11" cy="218.49" r="1.4"/><circle cx="410.38" cy="216.61" r="1.4"/><circle cx="412.65" cy="213.09" r="1.4"/><circle cx="414.92" cy="210.09" r="1.4"/><circle cx="417.19" cy="207.29" r="1.4"/><circle cx="419.46" cy="204.71" r="1.4"/><circle cx="421.73" cy="202.36" r="1.4"/><circle cx="424.00" cy="200.31" r="1.4"/><circle cx="426.27" cy="198.49" r="1.4"/><circle cx="428.54" cy="196.64" r="1.4"/><circle cx="430.81" cy="194.75" r="1.4"/><circle cx="433.08" cy="192.79" r="1.4"/><circle cx="435.35" cy="190.33" r="1.4"/><circle cx="437.62" cy="187.53" r="1.4"/><circle cx="439.89" cy="185.75" r="1.4"/><circle cx="442.16" cy="184.43" r="1.4"/><circle cx="444.43" cy="183.49" r="1.4"/><circle cx="446.70" cy="182.78" r="1.4"/><circle cx="448.97" cy="182.19" r="1.4"/><circle cx="451.24" cy="181.60" r="1.4"/><circle cx="453.51" cy="181.04" r="1.4"/><circle cx="455.78" cy="180.57" r="1.4"/><circle cx="458.05" cy="180.19" r="1.4"/><circle cx="460.32" cy="179.83" r="1.4"/><circle cx="462.59" cy="179.50" r="1.4"/><circle cx="464.86" cy="179.22" r="1.4"/><circle cx="467.13" cy="178.98" r="1.4"/><circle cx="469.40" cy="178.81" r="1.4"/></g>
</g>
<rect x="332.4" y="119.5" width="137.0" height="106.1" fill="none" stroke="#444" stroke-width="0.9"/>
<path d="M343.25,225.6v-1.4M343.25,119.5v1.4M354.74,225.6v-2.2M354.74,119.5v2.2M366.23,225.6v-1.4M366.23,119.5v1.4M377.72,225.6v-2.2M377.72,119.5v2.2M389.21,225.6v-1.4M389.21,119.5v1.4M400.70,225.6v-2.2M400.70,119.5v2.2M412.19,225.6v-1.4M412.19,119.5v1.4M423.68,225.6v-2.2M423.68,119.5v2.2M435.17,225.6v-1.4M435.17,119.5v1.4M446.66,225.6v-2.2M446.66,119.5v2.2M458.15,225.6v-1.4M458.15,119.5v1.4M332.4,212.46h2.2M469.4,212.46h-2.2M332.4,200.08h1.4M469.4,200.08h-1.4M332.4,187.70h2.2M469.4,187.70h-2.2M332.4,175.32h1.4M469.4,175.32h-1.4M332.4,162.94h2.2M469.4,162.94h-2.2M332.4,150.56h1.4M469.4,150.56h-1.4M332.4,138.18h2.2M469.4,138.18h-2.2M332.4,125.80h1.4M469.4,125.80h-1.4" stroke="#444" stroke-width="0.7" fill="none"/>
<text x="329.80" y="214.41" font-size="5.4" text-anchor="end" font-family="Liberation Sans, sans-serif" fill="#151515" stroke="#151515" stroke-width="0.08">0.4</text>
<text x="329.80" y="189.65" font-size="5.4" text-anchor="end" font-family="Liberation Sans, sans-serif" fill="#151515" stroke="#151515" stroke-width="0.08">0.8</text>
<text x="329.80" y="164.89" font-size="5.4" text-anchor="end" font-family="Liberation Sans, sans-serif" fill="#151515" stroke="#151515" stroke-width="0.08">1.2</text>
<text x="329.80" y="140.13" font-size="5.4" text-anchor="end" font-family="Liberation Sans, sans-serif" fill="#151515" stroke="#151515" stroke-width="0.08">1.6</text>
<text transform="translate(318.60,169.00) rotate(-90)" font-size="6.7" text-anchor="middle" font-family="Liberation Sans, sans-serif" fill="#151515" stroke="#151515" stroke-width="0.08">Normalized transmission</text>
<text x="354.74" y="231.90" font-size="5.4" text-anchor="middle" font-family="Liberation Sans, sans-serif" fill="#151515" stroke="#151515" stroke-width="0.08">-0.6</text>
<text x="377.72" y="231.90" font-size="5.4" text-anchor="middle" font-family="Liberation Sans, sans-serif" fill="#151515" stroke="#151515" stroke-width="0.08">-0.3</text>
<text x="400.70" y="231.90" font-size="5.4" text-anchor="middle" font-family="Liberation Sans, sans-serif" fill="#151515" stroke="#151515" stroke-width="0.08">0.0</text>
<text x="423.68" y="231.90" font-size="5.4" text-anchor="middle" font-family="Liberation Sans, sans-serif" fill="#151515" stroke="#151515" stroke-width="0.08">0.3</text>
<text x="446.66" y="231.90" font-size="5.4" text-anchor="middle" font-family="Liberation Sans, sans-serif" fill="#151515" stroke="#151515" stroke-width="0.08">0.6</text>
<text x="394.00" y="242.40" font-size="7" font-family="Liberation Sans, sans-serif" fill="#151515" stroke="#151515" stroke-width="0.08"><tspan font-size="7.3">Z</tspan> (mm)</text>
<text x="337.29999999999995" y="130.50" font-size="6.4" font-family="Liberation Sans, sans-serif" fill="#151515" stroke="#151515" stroke-width="0.08">(c)</text>
<text x="465.30" y="130.30" font-size="6.55" text-anchor="end" font-family="Liberation Sans, sans-serif" fill="#151515" stroke="#151515" stroke-width="0.08">Input fluence=200 mJ/cm<tspan font-size="4.2" dy="-2.8">2</tspan></text>
<text x="460.80" y="139.60" font-size="6.5" text-anchor="end" font-family="Liberation Sans, sans-serif" fill="#151515" stroke="#151515" stroke-width="0.08">n<tspan font-size="4.2" dy="1.5">2</tspan><tspan dy="-1.5">=1.91 cm</tspan><tspan font-size="4.2" dy="-2.8">2</tspan><tspan dy="2.8">/GW</tspan></text>
<clipPath id="c11"><rect x="478.4" y="119.5" width="135.39999999999998" height="106.1"/></clipPath>
<g clip-path="url(#c11)">
<path d="M477.40,174.58 L477.65,174.56 L477.90,174.54 L478.15,174.52 L478.40,174.50 L478.65,174.48 L478.90,174.46 L479.15,174.44 L479.40,174.41 L479.65,174.39 L479.90,174.36 L480.15,174.34 L480.40,174.31 L480.65,174.29 L480.90,174.26 L481.15,174.23 L481.40,174.21 L481.65,174.18 L481.90,174.15 L482.15,174.12 L482.40,174.09 L482.65,174.06 L482.90,174.02 L483.15,173.99 L483.40,173.96 L483.65,173.93 L483.90,173.89 L484.15,173.86 L484.40,173.82 L484.65,173.79 L484.90,173.75 L485.15,173.72 L485.40,173.68 L485.65,173.64 L485.90,173.60 L486.15,173.56 L486.40,173.53 L486.65,173.49 L486.90,173.45 L487.15,173.41 L487.40,173.37 L487.65,173.32 L487.90,173.28 L488.15,173.24 L488.40,173.20 L488.65,173.16 L488.90,173.11 L489.15,173.07 L489.40,173.03 L489.65,172.98 L489.90,172.94 L490.15,172.89 L490.40,172.85 L490.65,172.80 L490.90,172.75 L491.15,172.71 L491.40,172.66 L491.65,172.61 L491.90,172.57 L492.15,172.52 L492.40,172.47 L492.65,172.42 L492.90,172.38 L493.15,172.33 L493.40,172.28 L493.65,172.23 L493.90,172.18 L494.15,172.13 L494.40,172.08 L494.65,172.03 L494.90,171.98 L495.15,171.93 L495.40,171.88 L495.65,171.83 L495.90,171.77 L496.15,171.72 L496.40,171.67 L496.65,171.61 L496.90,171.56 L497.15,171.50 L497.40,171.44 L497.65,171.39 L497.90,171.33 L498.15,171.27 L498.40,171.21 L498.65,171.15 L498.90,171.09 L499.15,171.03 L499.40,170.97 L499.65,170.91 L499.90,170.85 L500.15,170.78 L500.40,170.72 L500.65,170.65 L500.90,170.59 L501.15,170.52 L501.40,170.45 L501.65,170.39 L501.90,170.32 L502.15,170.25 L502.40,170.18 L502.65,170.11 L502.90,170.04 L503.15,169.96 L503.40,169.89 L503.65,169.82 L503.90,169.74 L504.15,169.67 L504.40,169.59 L504.65,169.51 L504.90,169.44 L505.15,169.36 L505.40,169.28 L505.65,169.20 L505.90,169.12 L506.15,169.03 L506.40,168.95 L506.65,168.87 L506.90,168.78 L507.15,168.70 L507.40,168.61 L507.65,168.53 L507.90,168.44 L508.15,168.35 L508.40,168.26 L508.65,168.17 L508.90,168.08 L509.15,167.99 L509.40,167.90 L509.65,167.80 L509.90,167.71 L510.15,167.61 L510.40,167.52 L510.65,167.42 L510.90,167.32 L511.15,167.22 L511.40,167.12 L511.65,167.02 L511.90,166.92 L512.15,166.81 L512.40,166.70 L512.65,166.59 L512.90,166.47 L513.15,166.35 L513.40,166.23 L513.65,166.10 L513.90,165.97 L514.15,165.84 L514.40,165.70 L514.65,165.57 L514.90,165.43 L515.15,165.28 L515.40,165.14 L515.65,164.99 L515.90,164.84 L516.15,164.69 L516.40,164.54 L516.65,164.39 L516.90,164.23 L517.15,164.07 L517.40,163.91 L517.65,163.75 L517.90,163.59 L518.15,163.43 L518.40,163.26 L518.65,163.10 L518.90,162.93 L519.15,162.77 L519.40,162.60 L519.65,162.43 L519.90,162.27 L520.15,162.10 L520.40,161.93 L520.65,161.75 L520.90,161.58 L521.15,161.40 L521.40,161.22 L521.65,161.04 L521.90,160.85 L522.15,160.66 L522.40,160.47 L522.65,160.28 L522.90,160.08 L523.15,159.89 L523.40,159.69 L523.65,159.49 L523.90,159.28 L524.15,159.08 L524.40,158.87 L524.65,158.66 L524.90,158.45 L525.15,158.24 L525.40,158.02 L525.65,157.81 L525.90,157.59 L526.15,157.37 L526.40,157.13 L526.65,156.89 L526.90,156.64 L527.15,156.38 L527.40,156.12 L527.65,155.85 L527.90,155.57 L528.15,155.29 L528.40,155.01 L528.65,154.73 L528.90,154.45 L529.15,154.17 L529.40,153.90 L529.65,153.63 L529.90,153.36 L530.15,153.10 L530.40,152.85 L530.65,152.61 L530.90,152.38 L531.15,152.15 L531.40,151.94 L531.65,151.75 L531.90,151.57 L532.15,151.40 L532.40,151.24 L532.65,151.08 L532.90,150.93 L533.15,150.77 L533.40,150.63 L533.65,150.49 L533.90,150.35 L534.15,150.21 L534.40,150.09 L534.65,149.96 L534.90,149.84 L535.15,149.73 L535.40,149.62 L535.65,149.51 L535.90,149.42 L536.15,149.32 L536.40,149.23 L536.65,149.15 L536.90,149.06 L537.15,148.97 L537.40,148.89 L537.65,148.83 L537.90,148.80 L538.15,148.81 L538.40,148.86 L538.65,148.96 L538.90,149.09 L539.15,149.27 L539.40,149.48 L539.65,149.73 L539.90,150.00 L540.15,150.31 L540.40,150.63 L540.65,150.98 L540.90,151.35 L541.15,151.78 L541.40,152.43 L541.65,153.29 L541.90,154.31 L542.15,155.44 L542.40,156.65 L542.65,157.89 L542.90,159.11 L543.15,160.28 L543.40,161.39 L543.65,162.54 L543.90,163.70 L544.15,164.89 L544.40,166.10 L544.65,167.33 L544.90,168.56 L545.15,169.80 L545.40,171.05 L545.65,172.29 L545.90,173.53 L546.15,174.76 L546.40,175.99 L546.65,177.26 L546.90,178.55 L547.15,179.86 L547.40,181.17 L547.65,182.48 L547.90,183.78 L548.15,185.05 L548.40,186.29 L548.65,187.48 L548.90,188.62 L549.15,189.69 L549.40,190.70 L549.65,191.72 L549.90,192.74 L550.15,193.75 L550.40,194.73 L550.65,195.65 L550.90,196.51 L551.15,197.28 L551.40,197.93 L551.65,198.46 L551.90,198.84 L552.15,199.19 L552.40,199.53 L552.65,199.86 L552.90,200.16 L553.15,200.45 L553.40,200.71 L553.65,200.95 L553.90,201.16 L554.15,201.34 L554.40,201.49 L554.65,201.60 L554.90,201.67 L555.15,201.70 L555.40,201.70 L555.65,201.69 L555.90,201.67 L556.15,201.64 L556.40,201.60 L556.65,201.56 L556.90,201.51 L557.15,201.45 L557.40,201.39 L557.65,201.33 L557.90,201.25 L558.15,201.18 L558.40,201.10 L558.65,201.01 L558.90,200.93 L559.15,200.84 L559.40,200.74 L559.65,200.65 L559.90,200.55 L560.15,200.46 L560.40,200.36 L560.65,200.24 L560.90,200.11 L561.15,199.95 L561.40,199.78 L561.65,199.59 L561.90,199.39 L562.15,199.17 L562.40,198.94 L562.65,198.69 L562.90,198.43 L563.15,198.17 L563.40,197.89 L563.65,197.61 L563.90,197.32 L564.15,197.02 L564.40,196.72 L564.65,196.42 L564.90,196.11 L565.15,195.80 L565.40,195.50 L565.65,195.19 L565.90,194.88 L566.15,194.58 L566.40,194.28 L566.65,193.98 L566.90,193.70 L567.15,193.42 L567.40,193.14 L567.65,192.88 L567.90,192.63 L568.15,192.39 L568.40,192.16 L568.65,191.94 L568.90,191.74 L569.15,191.54 L569.40,191.34 L569.65,191.15 L569.90,190.96 L570.15,190.78 L570.40,190.59 L570.65,190.41 L570.90,190.24 L571.15,190.06 L571.40,189.89 L571.65,189.72 L571.90,189.55 L572.15,189.38 L572.40,189.21 L572.65,189.05 L572.90,188.88 L573.15,188.72 L573.40,188.55 L573.65,188.39 L573.90,188.23 L574.15,188.06 L574.40,187.90 L574.65,187.73 L574.90,187.57 L575.15,187.40 L575.40,187.23 L575.65,187.06 L575.90,186.89 L576.15,186.71 L576.40,186.54 L576.65,186.36 L576.90,186.19 L577.15,186.02 L577.40,185.84 L577.65,185.68 L577.90,185.51 L578.15,185.35 L578.40,185.19 L578.65,185.03 L578.90,184.88 L579.15,184.74 L579.40,184.60 L579.65,184.47 L579.90,184.35 L580.15,184.23 L580.40,184.11 L580.65,184.00 L580.90,183.89 L581.15,183.78 L581.40,183.67 L581.65,183.57 L581.90,183.46 L582.15,183.36 L582.40,183.26 L582.65,183.16 L582.90,183.06 L583.15,182.97 L583.40,182.87 L583.65,182.78 L583.90,182.69 L584.15,182.60 L584.40,182.52 L584.65,182.43 L584.90,182.35 L585.15,182.26 L585.40,182.18 L585.65,182.10 L585.90,182.03 L586.15,181.95 L586.40,181.87 L586.65,181.80 L586.90,181.73 L587.15,181.66 L587.40,181.59 L587.65,181.52 L587.90,181.45 L588.15,181.39 L588.40,181.32 L588.65,181.26 L588.90,181.19 L589.15,181.13 L589.40,181.06 L589.65,181.00 L589.90,180.93 L590.15,180.87 L590.40,180.81 L590.65,180.75 L590.90,180.68 L591.15,180.62 L591.40,180.56 L591.65,180.50 L591.90,180.44 L592.15,180.38 L592.40,180.32 L592.65,180.26 L592.90,180.20 L593.15,180.14 L593.40,180.09 L593.65,180.03 L593.90,179.98 L594.15,179.92 L594.40,179.87 L594.65,179.81 L594.90,179.76 L595.15,179.71 L595.40,179.66 L595.65,179.61 L595.90,179.56 L596.15,179.51 L596.40,179.47 L596.65,179.42 L596.90,179.38 L597.15,179.33 L597.40,179.29 L597.65,179.25 L597.90,179.21 L598.15,179.17 L598.40,179.13 L598.65,179.10 L598.90,179.06 L599.15,179.03 L599.40,178.99 L599.65,178.96 L599.90,178.93 L600.15,178.90 L600.40,178.88 L600.65,178.85 L600.90,178.83 L601.15,178.80 L601.40,178.78 L601.65,178.76 L601.90,178.74 L602.15,178.72 L602.40,178.70 L602.65,178.68 L602.90,178.66 L603.15,178.63 L603.40,178.61 L603.65,178.59 L603.90,178.57 L604.15,178.55 L604.40,178.53 L604.65,178.51 L604.90,178.49 L605.15,178.48 L605.40,178.46 L605.65,178.44 L605.90,178.42 L606.15,178.40 L606.40,178.39 L606.65,178.37 L606.90,178.35 L607.15,178.34 L607.40,178.32 L607.65,178.30 L607.90,178.29 L608.15,178.28 L608.40,178.26 L608.65,178.25 L608.90,178.23 L609.15,178.22 L609.40,178.21 L609.65,178.20 L609.90,178.19 L610.15,178.18 L610.40,178.17 L610.65,178.16 L610.90,178.15 L611.15,178.14 L611.40,178.13 L611.65,178.13 L611.90,178.12 L612.15,178.12 L612.40,178.11 L612.65,178.11 L612.90,178.11 L613.15,178.10 L613.40,178.10 L613.65,178.10 L613.90,178.10 L614.15,178.10 L614.40,178.10 L614.65,178.10" stroke="#2828f0" stroke-width="0.75" fill="none"/>
<g fill="url(#sB)"><circle cx="479.20" cy="175.61" r="1.4"/><circle cx="481.47" cy="176.01" r="1.4"/><circle cx="483.74" cy="176.17" r="1.4"/><circle cx="486.01" cy="176.20" r="1.4"/><circle cx="488.28" cy="175.96" r="1.4"/><circle cx="490.55" cy="175.22" r="1.4"/><circle cx="492.82" cy="174.33" r="1.4"/><circle cx="495.09" cy="173.63" r="1.4"/><circle cx="497.36" cy="173.11" r="1.4"/><circle cx="499.63" cy="172.63" r="1.4"/><circle cx="501.90" cy="172.21" r="1.4"/><circle cx="504.17" cy="171.89" r="1.4"/><circle cx="506.44" cy="171.65" r="1.4"/><circle cx="508.71" cy="171.44" r="1.4"/><circle cx="510.98" cy="171.19" r="1.4"/><circle cx="513.25" cy="170.88" r="1.4"/><circle cx="515.52" cy="170.52" r="1.4"/><circle cx="517.79" cy="170.07" r="1.4"/><circle cx="520.06" cy="169.48" r="1.4"/><circle cx="522.33" cy="168.50" r="1.4"/><circle cx="524.60" cy="167.14" r="1.4"/><circle cx="526.87" cy="165.31" r="1.4"/><circle cx="529.14" cy="163.57" r="1.4"/><circle cx="531.41" cy="160.51" r="1.4"/><circle cx="533.68" cy="155.38" r="1.4"/><circle cx="535.95" cy="151.22" r="1.4"/><circle cx="538.22" cy="146.56" r="1.4"/><circle cx="540.49" cy="150.81" r="1.4"/><circle cx="542.76" cy="181.74" r="1.4"/><circle cx="545.03" cy="185.13" r="1.4"/><circle cx="547.30" cy="186.68" r="1.4"/><circle cx="549.57" cy="191.05" r="1.4"/><circle cx="551.84" cy="200.32" r="1.4"/><circle cx="554.11" cy="207.94" r="1.4"/><circle cx="556.38" cy="208.67" r="1.4"/><circle cx="558.65" cy="205.41" r="1.4"/><circle cx="560.92" cy="203.76" r="1.4"/><circle cx="563.19" cy="202.97" r="1.4"/><circle cx="565.46" cy="202.01" r="1.4"/><circle cx="567.73" cy="200.50" r="1.4"/><circle cx="570.00" cy="198.65" r="1.4"/><circle cx="572.27" cy="196.65" r="1.4"/><circle cx="574.54" cy="194.64" r="1.4"/><circle cx="576.81" cy="192.47" r="1.4"/><circle cx="579.08" cy="190.24" r="1.4"/><circle cx="581.35" cy="188.20" r="1.4"/><circle cx="583.62" cy="186.43" r="1.4"/><circle cx="585.89" cy="184.80" r="1.4"/><circle cx="588.16" cy="183.36" r="1.4"/><circle cx="590.43" cy="182.04" r="1.4"/><circle cx="592.70" cy="180.86" r="1.4"/><circle cx="594.97" cy="180.02" r="1.4"/><circle cx="597.24" cy="179.45" r="1.4"/><circle cx="599.51" cy="179.01" r="1.4"/><circle cx="601.78" cy="178.75" r="1.4"/><circle cx="604.05" cy="178.55" r="1.4"/><circle cx="606.32" cy="178.38" r="1.4"/><circle cx="608.59" cy="178.24" r="1.4"/><circle cx="610.86" cy="178.15" r="1.4"/><circle cx="613.13" cy="178.10" r="1.4"/></g>
</g>
<rect x="478.4" y="119.5" width="135.39999999999998" height="106.1" fill="none" stroke="#444" stroke-width="0.9"/>
<path d="M488.75,225.6v-1.4M488.75,119.5v1.4M500.24,225.6v-2.2M500.24,119.5v2.2M511.73,225.6v-1.4M511.73,119.5v1.4M523.22,225.6v-2.2M523.22,119.5v2.2M534.71,225.6v-1.4M534.71,119.5v1.4M546.20,225.6v-2.2M546.20,119.5v2.2M557.69,225.6v-1.4M557.69,119.5v1.4M569.18,225.6v-2.2M569.18,119.5v2.2M580.67,225.6v-1.4M580.67,119.5v1.4M592.16,225.6v-2.2M592.16,119.5v2.2M603.65,225.6v-1.4M603.65,119.5v1.4M478.4,212.46h2.2M613.8,212.46h-2.2M478.4,200.08h1.4M613.8,200.08h-1.4M478.4,187.70h2.2M613.8,187.70h-2.2M478.4,175.32h1.4M613.8,175.32h-1.4M478.4,162.94h2.2M613.8,162.94h-2.2M478.4,150.56h1.4M613.8,150.56h-1.4M478.4,138.18h2.2M613.8,138.18h-2.2M478.4,125.80h1.4M613.8,125.80h-1.4" stroke="#444" stroke-width="0.7" fill="none"/>
<text x="616.60" y="214.41" font-size="5.4" font-family="Liberation Sans, sans-serif" fill="#151515" stroke="#151515" stroke-width="0.08">0.4</text>
<text x="616.60" y="189.65" font-size="5.4" font-family="Liberation Sans, sans-serif" fill="#151515" stroke="#151515" stroke-width="0.08">0.8</text>
<text x="616.60" y="164.89" font-size="5.4" font-family="Liberation Sans, sans-serif" fill="#151515" stroke="#151515" stroke-width="0.08">1.2</text>
<text x="616.60" y="140.13" font-size="5.4" font-family="Liberation Sans, sans-serif" fill="#151515" stroke="#151515" stroke-width="0.08">1.6</text>
<text transform="translate(636.30,167.90) rotate(-90)" font-size="6.85" text-anchor="middle" font-family="Liberation Sans, sans-serif" fill="#151515" stroke="#151515" stroke-width="0.08">Normalized transmission</text>
<text x="500.24" y="231.90" font-size="5.4" text-anchor="middle" font-family="Liberation Sans, sans-serif" fill="#151515" stroke="#151515" stroke-width="0.08">-0.6</text>
<text x="523.22" y="231.90" font-size="5.4" text-anchor="middle" font-family="Liberation Sans, sans-serif" fill="#151515" stroke="#151515" stroke-width="0.08">-0.3</text>
<text x="546.20" y="231.90" font-size="5.4" text-anchor="middle" font-family="Liberation Sans, sans-serif" fill="#151515" stroke="#151515" stroke-width="0.08">0.0</text>
<text x="569.18" y="231.90" font-size="5.4" text-anchor="middle" font-family="Liberation Sans, sans-serif" fill="#151515" stroke="#151515" stroke-width="0.08">0.3</text>
<text x="592.16" y="231.90" font-size="5.4" text-anchor="middle" font-family="Liberation Sans, sans-serif" fill="#151515" stroke="#151515" stroke-width="0.08">0.6</text>
<text x="537.00" y="242.40" font-size="7" font-family="Liberation Sans, sans-serif" fill="#151515" stroke="#151515" stroke-width="0.08"><tspan font-size="7.3">Z</tspan> (mm)</text>
<text x="483.29999999999995" y="130.50" font-size="6.4" font-family="Liberation Sans, sans-serif" fill="#151515" stroke="#151515" stroke-width="0.08">(d)</text>
<text x="610.50" y="130.80" font-size="6.55" text-anchor="end" font-family="Liberation Sans, sans-serif" fill="#151515" stroke="#151515" stroke-width="0.08">Input fluence=400 mJ/cm<tspan font-size="4.2" dy="-2.8">2</tspan></text>
<text x="602.70" y="139.90" font-size="6.5" text-anchor="end" font-family="Liberation Sans, sans-serif" fill="#151515" stroke="#151515" stroke-width="0.08">n<tspan font-size="4.2" dy="1.5">2</tspan><tspan dy="-1.5">=0.57 cm</tspan><tspan font-size="4.2" dy="-2.8">2</tspan><tspan dy="2.8">/GW</tspan></text>
<text x="475.9" y="264.3" font-size="14.3" text-anchor="middle" font-family="Liberation Sans, sans-serif" fill="#111" stroke="#111" stroke-width="0.12">(b)</text>
</svg>
</body></html>
